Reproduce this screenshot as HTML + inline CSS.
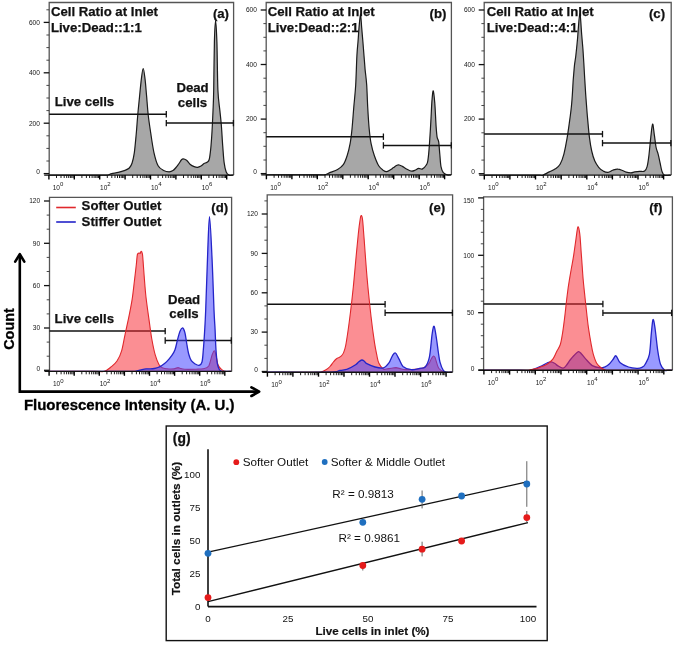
<!DOCTYPE html>
<html><head><meta charset="utf-8"><style>
html,body{margin:0;padding:0;background:#fff;}
svg{display:block;will-change:transform;}
text{font-family:"Liberation Sans",sans-serif;fill:#111;}
.b13{font-size:13.2px;font-weight:bold;stroke:#111;stroke-width:0.25px;}
.b145{font-size:14.4px;font-weight:bold;fill:#000;stroke:#000;stroke-width:0.3px;}
.b11{font-size:11.6px;font-weight:bold;stroke:#111;stroke-width:0.2px;}
.r10{font-size:9.8px;}
.r117{font-size:11.7px;}
.tk{font-size:6.5px;fill:#151515;}
.yl{font-size:6.6px;fill:#151515;}
</style></head><body>
<svg width="675" height="647" viewBox="0 0 675 647">
<rect width="675" height="647" fill="#fff"/>
<path d="M49.2,175.1 V2.5 H233.6 V175.1" fill="none" stroke="#555" stroke-width="1.3"/>
<line x1="43.7" y1="173.6" x2="49.2" y2="173.6" stroke="#111" stroke-width="1.3"/>
<text x="39.900000000000006" y="174.2" class="yl" text-anchor="end">0</text>
<line x1="46.400000000000006" y1="161.0" x2="49.2" y2="161.0" stroke="#333" stroke-width="0.9"/>
<line x1="46.400000000000006" y1="148.4" x2="49.2" y2="148.4" stroke="#333" stroke-width="0.9"/>
<line x1="46.400000000000006" y1="135.8" x2="49.2" y2="135.8" stroke="#333" stroke-width="0.9"/>
<line x1="43.7" y1="123.2" x2="49.2" y2="123.2" stroke="#111" stroke-width="1.3"/>
<text x="39.900000000000006" y="125.5" class="yl" text-anchor="end">200</text>
<line x1="46.400000000000006" y1="110.6" x2="49.2" y2="110.6" stroke="#333" stroke-width="0.9"/>
<line x1="46.400000000000006" y1="98.0" x2="49.2" y2="98.0" stroke="#333" stroke-width="0.9"/>
<line x1="46.400000000000006" y1="85.4" x2="49.2" y2="85.4" stroke="#333" stroke-width="0.9"/>
<line x1="43.7" y1="72.8" x2="49.2" y2="72.8" stroke="#111" stroke-width="1.3"/>
<text x="39.900000000000006" y="75.1" class="yl" text-anchor="end">400</text>
<line x1="46.400000000000006" y1="60.2" x2="49.2" y2="60.2" stroke="#333" stroke-width="0.9"/>
<line x1="46.400000000000006" y1="47.6" x2="49.2" y2="47.6" stroke="#333" stroke-width="0.9"/>
<line x1="46.400000000000006" y1="35.0" x2="49.2" y2="35.0" stroke="#333" stroke-width="0.9"/>
<line x1="43.7" y1="22.4" x2="49.2" y2="22.4" stroke="#111" stroke-width="1.3"/>
<text x="39.900000000000006" y="24.7" class="yl" text-anchor="end">600</text>
<line x1="46.400000000000006" y1="9.8" x2="49.2" y2="9.8" stroke="#333" stroke-width="0.9"/>
<path d="M49.5,175.1 C57.9,175.1 90.3,175.1 100.0,175.1 C109.7,175.1 105.8,175.3 107.7,175.1 C109.7,174.8 109.9,174.0 111.7,173.6 C113.5,173.2 116.1,172.9 118.3,172.4 C120.5,171.9 123.2,171.1 125.0,170.4 C126.8,169.7 128.1,169.2 129.3,168.0 C130.5,166.8 131.3,165.5 132.1,163.0 C132.9,160.5 133.6,157.6 134.3,152.8 C135.0,148.0 135.6,140.4 136.2,134.2 C136.8,128.0 137.1,121.9 137.7,115.7 C138.2,109.5 138.9,103.3 139.5,97.1 C140.1,90.9 140.8,83.4 141.4,78.6 C142.0,73.8 142.6,68.5 143.2,68.5 C143.8,68.5 144.4,73.8 145.0,78.6 C145.6,83.4 146.1,90.9 146.7,97.1 C147.2,103.3 147.6,109.5 148.3,115.7 C149.0,121.9 150.0,128.0 150.9,134.2 C151.8,140.4 152.8,147.6 154.0,152.8 C155.2,158.1 156.5,162.8 158.1,165.7 C159.7,168.6 161.8,169.4 163.6,170.4 C165.4,171.4 167.6,171.8 169.2,171.8 C170.8,171.8 171.9,171.3 173.0,170.6 C174.1,169.9 175.0,168.7 176.0,167.5 C177.0,166.3 178.0,164.9 178.9,163.7 C179.8,162.4 180.6,160.8 181.3,160.0 C182.0,159.2 182.2,158.8 183.1,158.8 C184.0,158.8 185.4,159.3 186.6,160.2 C187.8,161.1 188.7,163.1 190.0,164.2 C191.3,165.3 192.9,166.1 194.2,166.6 C195.4,167.1 196.4,167.4 197.5,167.3 C198.6,167.2 199.9,166.6 201.0,166.0 C202.1,165.4 203.0,164.2 204.0,163.6 C205.0,163.0 206.1,163.0 207.0,162.3 C207.9,161.6 208.6,161.6 209.2,159.5 C209.8,157.4 210.1,154.6 210.6,150.0 C211.1,145.4 211.6,138.2 212.0,131.7 C212.4,125.2 212.7,117.9 213.0,110.9 C213.3,104.0 213.5,101.5 213.7,90.0 C213.9,78.5 214.1,53.2 214.4,41.7 C214.7,30.2 215.2,20.8 215.6,20.8 C216.0,20.8 216.5,30.2 216.9,41.7 C217.3,53.2 217.4,78.5 217.9,90.0 C218.4,101.5 219.3,105.1 219.9,110.9 C220.5,116.7 220.8,119.0 221.3,124.8 C221.8,130.6 222.2,139.3 222.7,145.6 C223.2,151.8 223.5,157.9 224.1,162.3 C224.7,166.7 225.4,169.9 226.2,172.0 C227.0,174.1 227.8,174.6 229.0,175.1 C230.2,175.6 232.4,175.1 233.1,175.1 L233.1,175.1 L49.5,175.1 Z" fill="#a7a7a7" fill-opacity="1.0" stroke="none"/>
<path d="M49.5,175.1 C57.9,175.1 90.3,175.1 100.0,175.1 C109.7,175.1 105.8,175.3 107.7,175.1 C109.7,174.8 109.9,174.0 111.7,173.6 C113.5,173.2 116.1,172.9 118.3,172.4 C120.5,171.9 123.2,171.1 125.0,170.4 C126.8,169.7 128.1,169.2 129.3,168.0 C130.5,166.8 131.3,165.5 132.1,163.0 C132.9,160.5 133.6,157.6 134.3,152.8 C135.0,148.0 135.6,140.4 136.2,134.2 C136.8,128.0 137.1,121.9 137.7,115.7 C138.2,109.5 138.9,103.3 139.5,97.1 C140.1,90.9 140.8,83.4 141.4,78.6 C142.0,73.8 142.6,68.5 143.2,68.5 C143.8,68.5 144.4,73.8 145.0,78.6 C145.6,83.4 146.1,90.9 146.7,97.1 C147.2,103.3 147.6,109.5 148.3,115.7 C149.0,121.9 150.0,128.0 150.9,134.2 C151.8,140.4 152.8,147.6 154.0,152.8 C155.2,158.1 156.5,162.8 158.1,165.7 C159.7,168.6 161.8,169.4 163.6,170.4 C165.4,171.4 167.6,171.8 169.2,171.8 C170.8,171.8 171.9,171.3 173.0,170.6 C174.1,169.9 175.0,168.7 176.0,167.5 C177.0,166.3 178.0,164.9 178.9,163.7 C179.8,162.4 180.6,160.8 181.3,160.0 C182.0,159.2 182.2,158.8 183.1,158.8 C184.0,158.8 185.4,159.3 186.6,160.2 C187.8,161.1 188.7,163.1 190.0,164.2 C191.3,165.3 192.9,166.1 194.2,166.6 C195.4,167.1 196.4,167.4 197.5,167.3 C198.6,167.2 199.9,166.6 201.0,166.0 C202.1,165.4 203.0,164.2 204.0,163.6 C205.0,163.0 206.1,163.0 207.0,162.3 C207.9,161.6 208.6,161.6 209.2,159.5 C209.8,157.4 210.1,154.6 210.6,150.0 C211.1,145.4 211.6,138.2 212.0,131.7 C212.4,125.2 212.7,117.9 213.0,110.9 C213.3,104.0 213.5,101.5 213.7,90.0 C213.9,78.5 214.1,53.2 214.4,41.7 C214.7,30.2 215.2,20.8 215.6,20.8 C216.0,20.8 216.5,30.2 216.9,41.7 C217.3,53.2 217.4,78.5 217.9,90.0 C218.4,101.5 219.3,105.1 219.9,110.9 C220.5,116.7 220.8,119.0 221.3,124.8 C221.8,130.6 222.2,139.3 222.7,145.6 C223.2,151.8 223.5,157.9 224.1,162.3 C224.7,166.7 225.4,169.9 226.2,172.0 C227.0,174.1 227.8,174.6 229.0,175.1 C230.2,175.6 232.4,175.1 233.1,175.1" fill="none" stroke="#1a1a1a" stroke-width="1.2" stroke-linejoin="round"/>
<line x1="44.2" y1="175.1" x2="233.6" y2="175.1" stroke="#111" stroke-width="1.4"/>
<line x1="48.9" y1="175.1" x2="48.9" y2="179.5" stroke="#000" stroke-width="1.4"/>
<line x1="56.5" y1="175.1" x2="56.5" y2="178.0" stroke="#111" stroke-width="0.95"/>
<line x1="61.0" y1="175.1" x2="61.0" y2="178.0" stroke="#111" stroke-width="0.95"/>
<line x1="64.2" y1="175.1" x2="64.2" y2="178.0" stroke="#111" stroke-width="0.95"/>
<line x1="66.7" y1="175.1" x2="66.7" y2="178.0" stroke="#111" stroke-width="0.95"/>
<line x1="68.7" y1="175.1" x2="68.7" y2="178.0" stroke="#111" stroke-width="0.95"/>
<line x1="70.4" y1="175.1" x2="70.4" y2="178.0" stroke="#111" stroke-width="0.95"/>
<line x1="71.8" y1="175.1" x2="71.8" y2="178.0" stroke="#111" stroke-width="0.95"/>
<line x1="73.1" y1="175.1" x2="73.1" y2="178.0" stroke="#111" stroke-width="0.95"/>
<line x1="74.3" y1="175.1" x2="74.3" y2="179.5" stroke="#000" stroke-width="1.4"/>
<line x1="81.9" y1="175.1" x2="81.9" y2="178.0" stroke="#111" stroke-width="0.95"/>
<line x1="86.4" y1="175.1" x2="86.4" y2="178.0" stroke="#111" stroke-width="0.95"/>
<line x1="89.6" y1="175.1" x2="89.6" y2="178.0" stroke="#111" stroke-width="0.95"/>
<line x1="92.1" y1="175.1" x2="92.1" y2="178.0" stroke="#111" stroke-width="0.95"/>
<line x1="94.1" y1="175.1" x2="94.1" y2="178.0" stroke="#111" stroke-width="0.95"/>
<line x1="95.8" y1="175.1" x2="95.8" y2="178.0" stroke="#111" stroke-width="0.95"/>
<line x1="97.2" y1="175.1" x2="97.2" y2="178.0" stroke="#111" stroke-width="0.95"/>
<line x1="98.5" y1="175.1" x2="98.5" y2="178.0" stroke="#111" stroke-width="0.95"/>
<line x1="99.7" y1="175.1" x2="99.7" y2="179.5" stroke="#000" stroke-width="1.4"/>
<line x1="107.3" y1="175.1" x2="107.3" y2="178.0" stroke="#111" stroke-width="0.95"/>
<line x1="111.8" y1="175.1" x2="111.8" y2="178.0" stroke="#111" stroke-width="0.95"/>
<line x1="115.0" y1="175.1" x2="115.0" y2="178.0" stroke="#111" stroke-width="0.95"/>
<line x1="117.5" y1="175.1" x2="117.5" y2="178.0" stroke="#111" stroke-width="0.95"/>
<line x1="119.5" y1="175.1" x2="119.5" y2="178.0" stroke="#111" stroke-width="0.95"/>
<line x1="121.2" y1="175.1" x2="121.2" y2="178.0" stroke="#111" stroke-width="0.95"/>
<line x1="122.6" y1="175.1" x2="122.6" y2="178.0" stroke="#111" stroke-width="0.95"/>
<line x1="123.9" y1="175.1" x2="123.9" y2="178.0" stroke="#111" stroke-width="0.95"/>
<line x1="125.1" y1="175.1" x2="125.1" y2="179.5" stroke="#000" stroke-width="1.4"/>
<line x1="132.7" y1="175.1" x2="132.7" y2="178.0" stroke="#111" stroke-width="0.95"/>
<line x1="137.2" y1="175.1" x2="137.2" y2="178.0" stroke="#111" stroke-width="0.95"/>
<line x1="140.4" y1="175.1" x2="140.4" y2="178.0" stroke="#111" stroke-width="0.95"/>
<line x1="142.9" y1="175.1" x2="142.9" y2="178.0" stroke="#111" stroke-width="0.95"/>
<line x1="144.9" y1="175.1" x2="144.9" y2="178.0" stroke="#111" stroke-width="0.95"/>
<line x1="146.6" y1="175.1" x2="146.6" y2="178.0" stroke="#111" stroke-width="0.95"/>
<line x1="148.0" y1="175.1" x2="148.0" y2="178.0" stroke="#111" stroke-width="0.95"/>
<line x1="149.3" y1="175.1" x2="149.3" y2="178.0" stroke="#111" stroke-width="0.95"/>
<line x1="150.5" y1="175.1" x2="150.5" y2="179.5" stroke="#000" stroke-width="1.4"/>
<line x1="158.1" y1="175.1" x2="158.1" y2="178.0" stroke="#111" stroke-width="0.95"/>
<line x1="162.6" y1="175.1" x2="162.6" y2="178.0" stroke="#111" stroke-width="0.95"/>
<line x1="165.8" y1="175.1" x2="165.8" y2="178.0" stroke="#111" stroke-width="0.95"/>
<line x1="168.3" y1="175.1" x2="168.3" y2="178.0" stroke="#111" stroke-width="0.95"/>
<line x1="170.3" y1="175.1" x2="170.3" y2="178.0" stroke="#111" stroke-width="0.95"/>
<line x1="172.0" y1="175.1" x2="172.0" y2="178.0" stroke="#111" stroke-width="0.95"/>
<line x1="173.4" y1="175.1" x2="173.4" y2="178.0" stroke="#111" stroke-width="0.95"/>
<line x1="174.7" y1="175.1" x2="174.7" y2="178.0" stroke="#111" stroke-width="0.95"/>
<line x1="175.9" y1="175.1" x2="175.9" y2="179.5" stroke="#000" stroke-width="1.4"/>
<line x1="183.5" y1="175.1" x2="183.5" y2="178.0" stroke="#111" stroke-width="0.95"/>
<line x1="188.0" y1="175.1" x2="188.0" y2="178.0" stroke="#111" stroke-width="0.95"/>
<line x1="191.2" y1="175.1" x2="191.2" y2="178.0" stroke="#111" stroke-width="0.95"/>
<line x1="193.7" y1="175.1" x2="193.7" y2="178.0" stroke="#111" stroke-width="0.95"/>
<line x1="195.7" y1="175.1" x2="195.7" y2="178.0" stroke="#111" stroke-width="0.95"/>
<line x1="197.4" y1="175.1" x2="197.4" y2="178.0" stroke="#111" stroke-width="0.95"/>
<line x1="198.8" y1="175.1" x2="198.8" y2="178.0" stroke="#111" stroke-width="0.95"/>
<line x1="200.1" y1="175.1" x2="200.1" y2="178.0" stroke="#111" stroke-width="0.95"/>
<line x1="201.3" y1="175.1" x2="201.3" y2="179.5" stroke="#000" stroke-width="1.4"/>
<line x1="208.9" y1="175.1" x2="208.9" y2="178.0" stroke="#111" stroke-width="0.95"/>
<line x1="213.4" y1="175.1" x2="213.4" y2="178.0" stroke="#111" stroke-width="0.95"/>
<line x1="216.6" y1="175.1" x2="216.6" y2="178.0" stroke="#111" stroke-width="0.95"/>
<line x1="219.1" y1="175.1" x2="219.1" y2="178.0" stroke="#111" stroke-width="0.95"/>
<line x1="221.1" y1="175.1" x2="221.1" y2="178.0" stroke="#111" stroke-width="0.95"/>
<line x1="222.8" y1="175.1" x2="222.8" y2="178.0" stroke="#111" stroke-width="0.95"/>
<line x1="224.2" y1="175.1" x2="224.2" y2="178.0" stroke="#111" stroke-width="0.95"/>
<line x1="225.5" y1="175.1" x2="225.5" y2="178.0" stroke="#111" stroke-width="0.95"/>
<line x1="226.7" y1="175.1" x2="226.7" y2="179.5" stroke="#000" stroke-width="1.4"/>
<text x="52.7" y="190.1" class="tk">10<tspan dy="-3.8" font-size="6">0</tspan></text>
<text x="100.1" y="190.1" class="tk">10<tspan dy="-3.8" font-size="6">2</tspan></text>
<text x="150.9" y="190.1" class="tk">10<tspan dy="-3.8" font-size="6">4</tspan></text>
<text x="201.7" y="190.1" class="tk">10<tspan dy="-3.8" font-size="6">6</tspan></text>
<line x1="49.2" y1="114.3" x2="166.3" y2="114.3" stroke="#111" stroke-width="1.5"/>
<line x1="166.3" y1="111.1" x2="166.3" y2="117.5" stroke="#111" stroke-width="1.3"/>
<line x1="166.3" y1="123.1" x2="233.4" y2="123.1" stroke="#111" stroke-width="1.5"/>
<line x1="166.3" y1="119.89999999999999" x2="166.3" y2="126.3" stroke="#111" stroke-width="1.3"/>
<line x1="233.4" y1="119.89999999999999" x2="233.4" y2="126.3" stroke="#111" stroke-width="1.3"/>
<path d="M266.2,174.9 V2.5 H451.4 V174.9" fill="none" stroke="#555" stroke-width="1.3"/>
<line x1="260.7" y1="173.6" x2="266.2" y2="173.6" stroke="#111" stroke-width="1.3"/>
<text x="256.9" y="174.2" class="yl" text-anchor="end">0</text>
<line x1="263.4" y1="160.0" x2="266.2" y2="160.0" stroke="#333" stroke-width="0.9"/>
<line x1="263.4" y1="146.3" x2="266.2" y2="146.3" stroke="#333" stroke-width="0.9"/>
<line x1="263.4" y1="132.7" x2="266.2" y2="132.7" stroke="#333" stroke-width="0.9"/>
<line x1="260.7" y1="119.1" x2="266.2" y2="119.1" stroke="#111" stroke-width="1.3"/>
<text x="256.9" y="121.4" class="yl" text-anchor="end">200</text>
<line x1="263.4" y1="105.4" x2="266.2" y2="105.4" stroke="#333" stroke-width="0.9"/>
<line x1="263.4" y1="91.8" x2="266.2" y2="91.8" stroke="#333" stroke-width="0.9"/>
<line x1="263.4" y1="78.2" x2="266.2" y2="78.2" stroke="#333" stroke-width="0.9"/>
<line x1="260.7" y1="64.5" x2="266.2" y2="64.5" stroke="#111" stroke-width="1.3"/>
<text x="256.9" y="66.8" class="yl" text-anchor="end">400</text>
<line x1="263.4" y1="50.9" x2="266.2" y2="50.9" stroke="#333" stroke-width="0.9"/>
<line x1="263.4" y1="37.3" x2="266.2" y2="37.3" stroke="#333" stroke-width="0.9"/>
<line x1="263.4" y1="23.6" x2="266.2" y2="23.6" stroke="#333" stroke-width="0.9"/>
<line x1="260.7" y1="10.0" x2="266.2" y2="10.0" stroke="#111" stroke-width="1.3"/>
<text x="256.9" y="12.3" class="yl" text-anchor="end">600</text>
<path d="M266.5,174.9 C275.1,174.9 308.4,174.9 318.0,174.9 C327.6,174.9 322.3,175.3 324.4,174.9 C326.4,174.5 328.1,173.3 330.3,172.4 C332.5,171.5 335.4,170.8 337.6,169.4 C339.8,168.1 341.9,166.6 343.5,164.3 C345.1,162.0 346.1,158.9 347.2,155.5 C348.3,152.1 349.3,148.1 350.1,143.7 C350.9,139.3 351.4,135.1 352.0,129.0 C352.6,122.9 353.2,114.3 353.8,107.0 C354.4,99.7 355.2,93.5 355.7,85.0 C356.2,76.5 356.5,62.9 356.9,55.7 C357.3,48.5 357.6,46.4 358.0,41.8 C358.4,37.2 358.6,32.5 359.0,27.9 C359.4,23.2 360.1,13.9 360.5,13.9 C360.9,13.9 361.3,23.2 361.7,27.9 C362.1,32.5 362.5,37.2 362.9,41.8 C363.3,46.4 363.6,51.1 364.0,55.7 C364.4,60.3 364.7,64.7 365.1,69.6 C365.6,74.5 366.3,78.8 366.7,85.0 C367.1,91.2 367.3,99.7 367.7,107.0 C368.1,114.3 368.6,122.9 369.2,129.0 C369.8,135.1 370.2,139.3 371.1,143.7 C372.0,148.1 373.0,151.8 374.3,155.5 C375.6,159.2 377.2,163.4 378.7,165.8 C380.2,168.2 381.8,169.2 383.1,170.2 C384.5,171.2 385.6,171.7 386.8,171.6 C388.0,171.5 389.4,170.5 390.5,169.8 C391.6,169.1 392.4,168.4 393.5,167.6 C394.6,166.8 396.0,165.6 397.0,165.2 C398.0,164.8 398.4,164.8 399.3,165.0 C400.2,165.2 401.1,165.7 402.4,166.4 C403.7,167.1 405.5,168.5 407.0,169.3 C408.5,170.1 410.2,171.1 411.6,171.2 C413.0,171.3 414.3,170.5 415.5,170.0 C416.7,169.5 417.4,168.6 418.6,168.4 C419.8,168.2 421.2,169.5 422.5,168.9 C423.8,168.3 425.4,166.4 426.3,165.0 C427.2,163.6 427.4,163.8 427.9,160.4 C428.4,157.1 428.9,151.9 429.4,144.9 C429.9,137.9 430.6,126.1 431.0,118.6 C431.4,111.1 431.6,104.7 432.0,100.1 C432.4,95.5 432.8,90.3 433.3,90.8 C433.8,91.3 434.3,97.3 434.8,103.2 C435.3,109.1 435.7,120.7 436.1,126.4 C436.5,132.1 436.7,134.6 437.1,137.2 C437.5,139.8 438.2,139.0 438.7,141.8 C439.1,144.6 439.4,150.1 439.8,154.2 C440.2,158.3 440.4,163.5 441.0,166.6 C441.6,169.7 442.3,171.3 443.3,172.7 C444.3,174.1 445.9,174.5 447.2,174.9 C448.5,175.3 450.4,174.9 451.0,174.9 L451.0,174.9 L266.5,174.9 Z" fill="#a7a7a7" fill-opacity="1.0" stroke="none"/>
<path d="M266.5,174.9 C275.1,174.9 308.4,174.9 318.0,174.9 C327.6,174.9 322.3,175.3 324.4,174.9 C326.4,174.5 328.1,173.3 330.3,172.4 C332.5,171.5 335.4,170.8 337.6,169.4 C339.8,168.1 341.9,166.6 343.5,164.3 C345.1,162.0 346.1,158.9 347.2,155.5 C348.3,152.1 349.3,148.1 350.1,143.7 C350.9,139.3 351.4,135.1 352.0,129.0 C352.6,122.9 353.2,114.3 353.8,107.0 C354.4,99.7 355.2,93.5 355.7,85.0 C356.2,76.5 356.5,62.9 356.9,55.7 C357.3,48.5 357.6,46.4 358.0,41.8 C358.4,37.2 358.6,32.5 359.0,27.9 C359.4,23.2 360.1,13.9 360.5,13.9 C360.9,13.9 361.3,23.2 361.7,27.9 C362.1,32.5 362.5,37.2 362.9,41.8 C363.3,46.4 363.6,51.1 364.0,55.7 C364.4,60.3 364.7,64.7 365.1,69.6 C365.6,74.5 366.3,78.8 366.7,85.0 C367.1,91.2 367.3,99.7 367.7,107.0 C368.1,114.3 368.6,122.9 369.2,129.0 C369.8,135.1 370.2,139.3 371.1,143.7 C372.0,148.1 373.0,151.8 374.3,155.5 C375.6,159.2 377.2,163.4 378.7,165.8 C380.2,168.2 381.8,169.2 383.1,170.2 C384.5,171.2 385.6,171.7 386.8,171.6 C388.0,171.5 389.4,170.5 390.5,169.8 C391.6,169.1 392.4,168.4 393.5,167.6 C394.6,166.8 396.0,165.6 397.0,165.2 C398.0,164.8 398.4,164.8 399.3,165.0 C400.2,165.2 401.1,165.7 402.4,166.4 C403.7,167.1 405.5,168.5 407.0,169.3 C408.5,170.1 410.2,171.1 411.6,171.2 C413.0,171.3 414.3,170.5 415.5,170.0 C416.7,169.5 417.4,168.6 418.6,168.4 C419.8,168.2 421.2,169.5 422.5,168.9 C423.8,168.3 425.4,166.4 426.3,165.0 C427.2,163.6 427.4,163.8 427.9,160.4 C428.4,157.1 428.9,151.9 429.4,144.9 C429.9,137.9 430.6,126.1 431.0,118.6 C431.4,111.1 431.6,104.7 432.0,100.1 C432.4,95.5 432.8,90.3 433.3,90.8 C433.8,91.3 434.3,97.3 434.8,103.2 C435.3,109.1 435.7,120.7 436.1,126.4 C436.5,132.1 436.7,134.6 437.1,137.2 C437.5,139.8 438.2,139.0 438.7,141.8 C439.1,144.6 439.4,150.1 439.8,154.2 C440.2,158.3 440.4,163.5 441.0,166.6 C441.6,169.7 442.3,171.3 443.3,172.7 C444.3,174.1 445.9,174.5 447.2,174.9 C448.5,175.3 450.4,174.9 451.0,174.9" fill="none" stroke="#1a1a1a" stroke-width="1.2" stroke-linejoin="round"/>
<line x1="261.2" y1="174.9" x2="451.4" y2="174.9" stroke="#111" stroke-width="1.4"/>
<line x1="266.4" y1="174.9" x2="266.4" y2="179.3" stroke="#000" stroke-width="1.4"/>
<line x1="274.1" y1="174.9" x2="274.1" y2="177.8" stroke="#111" stroke-width="0.95"/>
<line x1="278.5" y1="174.9" x2="278.5" y2="177.8" stroke="#111" stroke-width="0.95"/>
<line x1="281.7" y1="174.9" x2="281.7" y2="177.8" stroke="#111" stroke-width="0.95"/>
<line x1="284.2" y1="174.9" x2="284.2" y2="177.8" stroke="#111" stroke-width="0.95"/>
<line x1="286.2" y1="174.9" x2="286.2" y2="177.8" stroke="#111" stroke-width="0.95"/>
<line x1="287.9" y1="174.9" x2="287.9" y2="177.8" stroke="#111" stroke-width="0.95"/>
<line x1="289.4" y1="174.9" x2="289.4" y2="177.8" stroke="#111" stroke-width="0.95"/>
<line x1="290.7" y1="174.9" x2="290.7" y2="177.8" stroke="#111" stroke-width="0.95"/>
<line x1="291.9" y1="174.9" x2="291.9" y2="179.3" stroke="#000" stroke-width="1.4"/>
<line x1="299.5" y1="174.9" x2="299.5" y2="177.8" stroke="#111" stroke-width="0.95"/>
<line x1="304.0" y1="174.9" x2="304.0" y2="177.8" stroke="#111" stroke-width="0.95"/>
<line x1="307.2" y1="174.9" x2="307.2" y2="177.8" stroke="#111" stroke-width="0.95"/>
<line x1="309.7" y1="174.9" x2="309.7" y2="177.8" stroke="#111" stroke-width="0.95"/>
<line x1="311.7" y1="174.9" x2="311.7" y2="177.8" stroke="#111" stroke-width="0.95"/>
<line x1="313.4" y1="174.9" x2="313.4" y2="177.8" stroke="#111" stroke-width="0.95"/>
<line x1="314.9" y1="174.9" x2="314.9" y2="177.8" stroke="#111" stroke-width="0.95"/>
<line x1="316.2" y1="174.9" x2="316.2" y2="177.8" stroke="#111" stroke-width="0.95"/>
<line x1="317.3" y1="174.9" x2="317.3" y2="179.3" stroke="#000" stroke-width="1.4"/>
<line x1="325.0" y1="174.9" x2="325.0" y2="177.8" stroke="#111" stroke-width="0.95"/>
<line x1="329.5" y1="174.9" x2="329.5" y2="177.8" stroke="#111" stroke-width="0.95"/>
<line x1="332.6" y1="174.9" x2="332.6" y2="177.8" stroke="#111" stroke-width="0.95"/>
<line x1="335.1" y1="174.9" x2="335.1" y2="177.8" stroke="#111" stroke-width="0.95"/>
<line x1="337.1" y1="174.9" x2="337.1" y2="177.8" stroke="#111" stroke-width="0.95"/>
<line x1="338.8" y1="174.9" x2="338.8" y2="177.8" stroke="#111" stroke-width="0.95"/>
<line x1="340.3" y1="174.9" x2="340.3" y2="177.8" stroke="#111" stroke-width="0.95"/>
<line x1="341.6" y1="174.9" x2="341.6" y2="177.8" stroke="#111" stroke-width="0.95"/>
<line x1="342.8" y1="174.9" x2="342.8" y2="179.3" stroke="#000" stroke-width="1.4"/>
<line x1="350.4" y1="174.9" x2="350.4" y2="177.8" stroke="#111" stroke-width="0.95"/>
<line x1="354.9" y1="174.9" x2="354.9" y2="177.8" stroke="#111" stroke-width="0.95"/>
<line x1="358.1" y1="174.9" x2="358.1" y2="177.8" stroke="#111" stroke-width="0.95"/>
<line x1="360.6" y1="174.9" x2="360.6" y2="177.8" stroke="#111" stroke-width="0.95"/>
<line x1="362.6" y1="174.9" x2="362.6" y2="177.8" stroke="#111" stroke-width="0.95"/>
<line x1="364.3" y1="174.9" x2="364.3" y2="177.8" stroke="#111" stroke-width="0.95"/>
<line x1="365.8" y1="174.9" x2="365.8" y2="177.8" stroke="#111" stroke-width="0.95"/>
<line x1="367.1" y1="174.9" x2="367.1" y2="177.8" stroke="#111" stroke-width="0.95"/>
<line x1="368.2" y1="174.9" x2="368.2" y2="179.3" stroke="#000" stroke-width="1.4"/>
<line x1="375.9" y1="174.9" x2="375.9" y2="177.8" stroke="#111" stroke-width="0.95"/>
<line x1="380.4" y1="174.9" x2="380.4" y2="177.8" stroke="#111" stroke-width="0.95"/>
<line x1="383.6" y1="174.9" x2="383.6" y2="177.8" stroke="#111" stroke-width="0.95"/>
<line x1="386.0" y1="174.9" x2="386.0" y2="177.8" stroke="#111" stroke-width="0.95"/>
<line x1="388.1" y1="174.9" x2="388.1" y2="177.8" stroke="#111" stroke-width="0.95"/>
<line x1="389.8" y1="174.9" x2="389.8" y2="177.8" stroke="#111" stroke-width="0.95"/>
<line x1="391.2" y1="174.9" x2="391.2" y2="177.8" stroke="#111" stroke-width="0.95"/>
<line x1="392.5" y1="174.9" x2="392.5" y2="177.8" stroke="#111" stroke-width="0.95"/>
<line x1="393.7" y1="174.9" x2="393.7" y2="179.3" stroke="#000" stroke-width="1.4"/>
<line x1="401.4" y1="174.9" x2="401.4" y2="177.8" stroke="#111" stroke-width="0.95"/>
<line x1="405.8" y1="174.9" x2="405.8" y2="177.8" stroke="#111" stroke-width="0.95"/>
<line x1="409.0" y1="174.9" x2="409.0" y2="177.8" stroke="#111" stroke-width="0.95"/>
<line x1="411.5" y1="174.9" x2="411.5" y2="177.8" stroke="#111" stroke-width="0.95"/>
<line x1="413.5" y1="174.9" x2="413.5" y2="177.8" stroke="#111" stroke-width="0.95"/>
<line x1="415.2" y1="174.9" x2="415.2" y2="177.8" stroke="#111" stroke-width="0.95"/>
<line x1="416.7" y1="174.9" x2="416.7" y2="177.8" stroke="#111" stroke-width="0.95"/>
<line x1="418.0" y1="174.9" x2="418.0" y2="177.8" stroke="#111" stroke-width="0.95"/>
<line x1="419.2" y1="174.9" x2="419.2" y2="179.3" stroke="#000" stroke-width="1.4"/>
<line x1="426.8" y1="174.9" x2="426.8" y2="177.8" stroke="#111" stroke-width="0.95"/>
<line x1="431.3" y1="174.9" x2="431.3" y2="177.8" stroke="#111" stroke-width="0.95"/>
<line x1="434.5" y1="174.9" x2="434.5" y2="177.8" stroke="#111" stroke-width="0.95"/>
<line x1="437.0" y1="174.9" x2="437.0" y2="177.8" stroke="#111" stroke-width="0.95"/>
<line x1="439.0" y1="174.9" x2="439.0" y2="177.8" stroke="#111" stroke-width="0.95"/>
<line x1="440.7" y1="174.9" x2="440.7" y2="177.8" stroke="#111" stroke-width="0.95"/>
<line x1="442.2" y1="174.9" x2="442.2" y2="177.8" stroke="#111" stroke-width="0.95"/>
<line x1="443.5" y1="174.9" x2="443.5" y2="177.8" stroke="#111" stroke-width="0.95"/>
<line x1="444.6" y1="174.9" x2="444.6" y2="179.3" stroke="#000" stroke-width="1.4"/>
<text x="270.2" y="189.9" class="tk">10<tspan dy="-3.8" font-size="6">0</tspan></text>
<text x="317.7" y="189.9" class="tk">10<tspan dy="-3.8" font-size="6">2</tspan></text>
<text x="368.6" y="189.9" class="tk">10<tspan dy="-3.8" font-size="6">4</tspan></text>
<text x="419.6" y="189.9" class="tk">10<tspan dy="-3.8" font-size="6">6</tspan></text>
<line x1="266.2" y1="136.7" x2="383.4" y2="136.7" stroke="#111" stroke-width="1.5"/>
<line x1="383.4" y1="133.5" x2="383.4" y2="139.89999999999998" stroke="#111" stroke-width="1.3"/>
<line x1="383.4" y1="145.4" x2="451.3" y2="145.4" stroke="#111" stroke-width="1.5"/>
<line x1="383.4" y1="142.20000000000002" x2="383.4" y2="148.6" stroke="#111" stroke-width="1.3"/>
<line x1="451.3" y1="142.20000000000002" x2="451.3" y2="148.6" stroke="#111" stroke-width="1.3"/>
<path d="M484.2,175.1 V2.5 H671.2 V175.1" fill="none" stroke="#555" stroke-width="1.3"/>
<line x1="478.7" y1="173.7" x2="484.2" y2="173.7" stroke="#111" stroke-width="1.3"/>
<text x="474.9" y="174.3" class="yl" text-anchor="end">0</text>
<line x1="481.4" y1="160.1" x2="484.2" y2="160.1" stroke="#333" stroke-width="0.9"/>
<line x1="481.4" y1="146.4" x2="484.2" y2="146.4" stroke="#333" stroke-width="0.9"/>
<line x1="481.4" y1="132.8" x2="484.2" y2="132.8" stroke="#333" stroke-width="0.9"/>
<line x1="478.7" y1="119.1" x2="484.2" y2="119.1" stroke="#111" stroke-width="1.3"/>
<text x="474.9" y="121.4" class="yl" text-anchor="end">200</text>
<line x1="481.4" y1="105.5" x2="484.2" y2="105.5" stroke="#333" stroke-width="0.9"/>
<line x1="481.4" y1="91.8" x2="484.2" y2="91.8" stroke="#333" stroke-width="0.9"/>
<line x1="481.4" y1="78.2" x2="484.2" y2="78.2" stroke="#333" stroke-width="0.9"/>
<line x1="478.7" y1="64.6" x2="484.2" y2="64.6" stroke="#111" stroke-width="1.3"/>
<text x="474.9" y="66.9" class="yl" text-anchor="end">400</text>
<line x1="481.4" y1="50.9" x2="484.2" y2="50.9" stroke="#333" stroke-width="0.9"/>
<line x1="481.4" y1="37.3" x2="484.2" y2="37.3" stroke="#333" stroke-width="0.9"/>
<line x1="481.4" y1="23.6" x2="484.2" y2="23.6" stroke="#333" stroke-width="0.9"/>
<line x1="478.7" y1="10.0" x2="484.2" y2="10.0" stroke="#111" stroke-width="1.3"/>
<text x="474.9" y="12.3" class="yl" text-anchor="end">600</text>
<path d="M484.5,175.1 C492.9,175.1 525.8,175.1 535.0,175.1 C544.2,175.1 538.6,175.1 540.0,175.1 C541.4,175.1 541.6,175.6 543.1,175.1 C544.6,174.6 547.2,172.9 549.3,171.9 C551.3,170.9 553.6,170.1 555.4,168.8 C557.2,167.5 558.7,166.6 560.1,164.2 C561.5,161.8 562.8,158.3 563.9,154.1 C565.0,149.8 566.1,143.8 567.0,138.7 C567.9,133.5 568.5,129.1 569.3,123.2 C570.1,117.3 571.1,110.4 571.7,103.2 C572.4,96.0 572.8,86.2 573.2,80.0 C573.7,73.8 574.0,70.2 574.4,66.0 C574.8,61.8 575.4,59.7 575.9,55.0 C576.4,50.3 577.0,44.9 577.6,38.0 C578.2,31.1 579.1,14.4 579.8,13.9 C580.5,13.4 581.2,29.0 581.7,34.8 C582.2,40.6 582.5,44.1 582.9,48.7 C583.2,53.4 583.5,57.5 583.8,62.7 C584.1,67.9 584.4,74.0 584.8,80.0 C585.2,86.0 585.5,92.1 586.0,98.5 C586.5,104.9 587.0,112.2 587.6,118.6 C588.2,125.0 588.7,131.7 589.4,137.1 C590.1,142.5 590.8,147.0 591.7,151.0 C592.6,155.0 593.6,158.4 594.8,161.1 C596.0,163.8 597.3,165.6 598.7,167.3 C600.1,169.0 601.8,170.2 603.3,171.1 C604.8,171.9 606.5,172.5 608.0,172.4 C609.5,172.3 611.4,170.8 612.6,170.3 C613.8,169.8 614.1,169.8 615.0,169.6 C615.9,169.4 616.8,169.0 618.0,169.2 C619.2,169.3 621.0,170.0 622.4,170.5 C623.8,171.0 624.7,171.8 626.1,172.2 C627.5,172.6 629.6,172.9 631.0,172.9 C632.4,172.9 633.2,172.2 634.7,171.9 C636.2,171.7 638.1,171.5 639.7,171.4 C641.4,171.3 643.4,171.9 644.6,171.1 C645.8,170.3 646.4,169.3 647.1,166.7 C647.8,164.1 648.3,160.5 648.9,155.6 C649.5,150.7 650.2,142.3 650.8,137.1 C651.4,131.8 652.0,124.5 652.6,124.1 C653.2,123.7 653.7,130.8 654.3,134.6 C654.9,138.4 655.4,143.7 656.0,147.0 C656.6,150.3 657.5,151.7 658.2,154.4 C658.9,157.1 659.5,160.2 660.1,163.0 C660.7,165.8 661.2,169.1 661.9,171.1 C662.6,173.1 662.9,174.4 664.4,175.1 C665.9,175.8 669.6,175.1 670.6,175.1 L670.6,175.1 L484.5,175.1 Z" fill="#a7a7a7" fill-opacity="1.0" stroke="none"/>
<path d="M484.5,175.1 C492.9,175.1 525.8,175.1 535.0,175.1 C544.2,175.1 538.6,175.1 540.0,175.1 C541.4,175.1 541.6,175.6 543.1,175.1 C544.6,174.6 547.2,172.9 549.3,171.9 C551.3,170.9 553.6,170.1 555.4,168.8 C557.2,167.5 558.7,166.6 560.1,164.2 C561.5,161.8 562.8,158.3 563.9,154.1 C565.0,149.8 566.1,143.8 567.0,138.7 C567.9,133.5 568.5,129.1 569.3,123.2 C570.1,117.3 571.1,110.4 571.7,103.2 C572.4,96.0 572.8,86.2 573.2,80.0 C573.7,73.8 574.0,70.2 574.4,66.0 C574.8,61.8 575.4,59.7 575.9,55.0 C576.4,50.3 577.0,44.9 577.6,38.0 C578.2,31.1 579.1,14.4 579.8,13.9 C580.5,13.4 581.2,29.0 581.7,34.8 C582.2,40.6 582.5,44.1 582.9,48.7 C583.2,53.4 583.5,57.5 583.8,62.7 C584.1,67.9 584.4,74.0 584.8,80.0 C585.2,86.0 585.5,92.1 586.0,98.5 C586.5,104.9 587.0,112.2 587.6,118.6 C588.2,125.0 588.7,131.7 589.4,137.1 C590.1,142.5 590.8,147.0 591.7,151.0 C592.6,155.0 593.6,158.4 594.8,161.1 C596.0,163.8 597.3,165.6 598.7,167.3 C600.1,169.0 601.8,170.2 603.3,171.1 C604.8,171.9 606.5,172.5 608.0,172.4 C609.5,172.3 611.4,170.8 612.6,170.3 C613.8,169.8 614.1,169.8 615.0,169.6 C615.9,169.4 616.8,169.0 618.0,169.2 C619.2,169.3 621.0,170.0 622.4,170.5 C623.8,171.0 624.7,171.8 626.1,172.2 C627.5,172.6 629.6,172.9 631.0,172.9 C632.4,172.9 633.2,172.2 634.7,171.9 C636.2,171.7 638.1,171.5 639.7,171.4 C641.4,171.3 643.4,171.9 644.6,171.1 C645.8,170.3 646.4,169.3 647.1,166.7 C647.8,164.1 648.3,160.5 648.9,155.6 C649.5,150.7 650.2,142.3 650.8,137.1 C651.4,131.8 652.0,124.5 652.6,124.1 C653.2,123.7 653.7,130.8 654.3,134.6 C654.9,138.4 655.4,143.7 656.0,147.0 C656.6,150.3 657.5,151.7 658.2,154.4 C658.9,157.1 659.5,160.2 660.1,163.0 C660.7,165.8 661.2,169.1 661.9,171.1 C662.6,173.1 662.9,174.4 664.4,175.1 C665.9,175.8 669.6,175.1 670.6,175.1" fill="none" stroke="#1a1a1a" stroke-width="1.2" stroke-linejoin="round"/>
<line x1="479.2" y1="175.1" x2="671.2" y2="175.1" stroke="#111" stroke-width="1.4"/>
<line x1="484.3" y1="175.1" x2="484.3" y2="179.5" stroke="#000" stroke-width="1.4"/>
<line x1="492.0" y1="175.1" x2="492.0" y2="178.0" stroke="#111" stroke-width="0.95"/>
<line x1="496.5" y1="175.1" x2="496.5" y2="178.0" stroke="#111" stroke-width="0.95"/>
<line x1="499.7" y1="175.1" x2="499.7" y2="178.0" stroke="#111" stroke-width="0.95"/>
<line x1="502.2" y1="175.1" x2="502.2" y2="178.0" stroke="#111" stroke-width="0.95"/>
<line x1="504.2" y1="175.1" x2="504.2" y2="178.0" stroke="#111" stroke-width="0.95"/>
<line x1="506.0" y1="175.1" x2="506.0" y2="178.0" stroke="#111" stroke-width="0.95"/>
<line x1="507.4" y1="175.1" x2="507.4" y2="178.0" stroke="#111" stroke-width="0.95"/>
<line x1="508.7" y1="175.1" x2="508.7" y2="178.0" stroke="#111" stroke-width="0.95"/>
<line x1="509.9" y1="175.1" x2="509.9" y2="179.5" stroke="#000" stroke-width="1.4"/>
<line x1="517.6" y1="175.1" x2="517.6" y2="178.0" stroke="#111" stroke-width="0.95"/>
<line x1="522.1" y1="175.1" x2="522.1" y2="178.0" stroke="#111" stroke-width="0.95"/>
<line x1="525.3" y1="175.1" x2="525.3" y2="178.0" stroke="#111" stroke-width="0.95"/>
<line x1="527.8" y1="175.1" x2="527.8" y2="178.0" stroke="#111" stroke-width="0.95"/>
<line x1="529.9" y1="175.1" x2="529.9" y2="178.0" stroke="#111" stroke-width="0.95"/>
<line x1="531.6" y1="175.1" x2="531.6" y2="178.0" stroke="#111" stroke-width="0.95"/>
<line x1="533.1" y1="175.1" x2="533.1" y2="178.0" stroke="#111" stroke-width="0.95"/>
<line x1="534.4" y1="175.1" x2="534.4" y2="178.0" stroke="#111" stroke-width="0.95"/>
<line x1="535.5" y1="175.1" x2="535.5" y2="179.5" stroke="#000" stroke-width="1.4"/>
<line x1="543.3" y1="175.1" x2="543.3" y2="178.0" stroke="#111" stroke-width="0.95"/>
<line x1="547.8" y1="175.1" x2="547.8" y2="178.0" stroke="#111" stroke-width="0.95"/>
<line x1="551.0" y1="175.1" x2="551.0" y2="178.0" stroke="#111" stroke-width="0.95"/>
<line x1="553.4" y1="175.1" x2="553.4" y2="178.0" stroke="#111" stroke-width="0.95"/>
<line x1="555.5" y1="175.1" x2="555.5" y2="178.0" stroke="#111" stroke-width="0.95"/>
<line x1="557.2" y1="175.1" x2="557.2" y2="178.0" stroke="#111" stroke-width="0.95"/>
<line x1="558.7" y1="175.1" x2="558.7" y2="178.0" stroke="#111" stroke-width="0.95"/>
<line x1="560.0" y1="175.1" x2="560.0" y2="178.0" stroke="#111" stroke-width="0.95"/>
<line x1="561.2" y1="175.1" x2="561.2" y2="179.5" stroke="#000" stroke-width="1.4"/>
<line x1="568.9" y1="175.1" x2="568.9" y2="178.0" stroke="#111" stroke-width="0.95"/>
<line x1="573.4" y1="175.1" x2="573.4" y2="178.0" stroke="#111" stroke-width="0.95"/>
<line x1="576.6" y1="175.1" x2="576.6" y2="178.0" stroke="#111" stroke-width="0.95"/>
<line x1="579.1" y1="175.1" x2="579.1" y2="178.0" stroke="#111" stroke-width="0.95"/>
<line x1="581.1" y1="175.1" x2="581.1" y2="178.0" stroke="#111" stroke-width="0.95"/>
<line x1="582.8" y1="175.1" x2="582.8" y2="178.0" stroke="#111" stroke-width="0.95"/>
<line x1="584.3" y1="175.1" x2="584.3" y2="178.0" stroke="#111" stroke-width="0.95"/>
<line x1="585.6" y1="175.1" x2="585.6" y2="178.0" stroke="#111" stroke-width="0.95"/>
<line x1="586.8" y1="175.1" x2="586.8" y2="179.5" stroke="#000" stroke-width="1.4"/>
<line x1="594.5" y1="175.1" x2="594.5" y2="178.0" stroke="#111" stroke-width="0.95"/>
<line x1="599.0" y1="175.1" x2="599.0" y2="178.0" stroke="#111" stroke-width="0.95"/>
<line x1="602.2" y1="175.1" x2="602.2" y2="178.0" stroke="#111" stroke-width="0.95"/>
<line x1="604.7" y1="175.1" x2="604.7" y2="178.0" stroke="#111" stroke-width="0.95"/>
<line x1="606.7" y1="175.1" x2="606.7" y2="178.0" stroke="#111" stroke-width="0.95"/>
<line x1="608.4" y1="175.1" x2="608.4" y2="178.0" stroke="#111" stroke-width="0.95"/>
<line x1="609.9" y1="175.1" x2="609.9" y2="178.0" stroke="#111" stroke-width="0.95"/>
<line x1="611.2" y1="175.1" x2="611.2" y2="178.0" stroke="#111" stroke-width="0.95"/>
<line x1="612.4" y1="175.1" x2="612.4" y2="179.5" stroke="#000" stroke-width="1.4"/>
<line x1="620.1" y1="175.1" x2="620.1" y2="178.0" stroke="#111" stroke-width="0.95"/>
<line x1="624.6" y1="175.1" x2="624.6" y2="178.0" stroke="#111" stroke-width="0.95"/>
<line x1="627.8" y1="175.1" x2="627.8" y2="178.0" stroke="#111" stroke-width="0.95"/>
<line x1="630.3" y1="175.1" x2="630.3" y2="178.0" stroke="#111" stroke-width="0.95"/>
<line x1="632.3" y1="175.1" x2="632.3" y2="178.0" stroke="#111" stroke-width="0.95"/>
<line x1="634.1" y1="175.1" x2="634.1" y2="178.0" stroke="#111" stroke-width="0.95"/>
<line x1="635.5" y1="175.1" x2="635.5" y2="178.0" stroke="#111" stroke-width="0.95"/>
<line x1="636.8" y1="175.1" x2="636.8" y2="178.0" stroke="#111" stroke-width="0.95"/>
<line x1="638.0" y1="175.1" x2="638.0" y2="179.5" stroke="#000" stroke-width="1.4"/>
<line x1="645.7" y1="175.1" x2="645.7" y2="178.0" stroke="#111" stroke-width="0.95"/>
<line x1="650.2" y1="175.1" x2="650.2" y2="178.0" stroke="#111" stroke-width="0.95"/>
<line x1="653.4" y1="175.1" x2="653.4" y2="178.0" stroke="#111" stroke-width="0.95"/>
<line x1="655.9" y1="175.1" x2="655.9" y2="178.0" stroke="#111" stroke-width="0.95"/>
<line x1="658.0" y1="175.1" x2="658.0" y2="178.0" stroke="#111" stroke-width="0.95"/>
<line x1="659.7" y1="175.1" x2="659.7" y2="178.0" stroke="#111" stroke-width="0.95"/>
<line x1="661.2" y1="175.1" x2="661.2" y2="178.0" stroke="#111" stroke-width="0.95"/>
<line x1="662.5" y1="175.1" x2="662.5" y2="178.0" stroke="#111" stroke-width="0.95"/>
<line x1="663.6" y1="175.1" x2="663.6" y2="179.5" stroke="#000" stroke-width="1.4"/>
<text x="488.1" y="190.1" class="tk">10<tspan dy="-3.8" font-size="6">0</tspan></text>
<text x="535.9" y="190.1" class="tk">10<tspan dy="-3.8" font-size="6">2</tspan></text>
<text x="587.2" y="190.1" class="tk">10<tspan dy="-3.8" font-size="6">4</tspan></text>
<text x="638.4" y="190.1" class="tk">10<tspan dy="-3.8" font-size="6">6</tspan></text>
<line x1="484.2" y1="134.1" x2="602.5" y2="134.1" stroke="#111" stroke-width="1.5"/>
<line x1="602.5" y1="130.9" x2="602.5" y2="137.29999999999998" stroke="#111" stroke-width="1.3"/>
<line x1="602.5" y1="143.1" x2="670.9" y2="143.1" stroke="#111" stroke-width="1.5"/>
<line x1="602.5" y1="139.9" x2="602.5" y2="146.29999999999998" stroke="#111" stroke-width="1.3"/>
<line x1="670.9" y1="139.9" x2="670.9" y2="146.29999999999998" stroke="#111" stroke-width="1.3"/>
<text x="50.900000000000006" y="15.8" class="b13" text-anchor="start" >Cell Ratio at Inlet</text>
<text x="50.900000000000006" y="32.1" class="b13" text-anchor="start" >Live:Dead::1:1</text>
<text x="229.0" y="18.2" class="b13" text-anchor="end" >(a)</text>
<text x="267.7" y="15.8" class="b13" text-anchor="start" >Cell Ratio at Inlet</text>
<text x="267.7" y="32.1" class="b13" text-anchor="start" >Live:Dead::2:1</text>
<text x="446.4" y="18.2" class="b13" text-anchor="end" >(b)</text>
<text x="486.7" y="15.8" class="b13" text-anchor="start" >Cell Ratio at Inlet</text>
<text x="486.7" y="32.1" class="b13" text-anchor="start" >Live:Dead::4:1</text>
<text x="665.1" y="18.2" class="b13" text-anchor="end" >(c)</text>
<text x="54.8" y="106.4" class="b13" text-anchor="start" >Live cells</text>
<text x="192.5" y="91.5" class="b13" text-anchor="middle" >Dead</text>
<text x="192.5" y="107" class="b13" text-anchor="middle" >cells</text>
<path d="M49.5,371.4 V197.3 H231.6 V371.4" fill="none" stroke="#555" stroke-width="1.3"/>
<line x1="44.0" y1="370.3" x2="49.5" y2="370.3" stroke="#111" stroke-width="1.3"/>
<text x="40.2" y="370.9" class="yl" text-anchor="end">0</text>
<line x1="46.7" y1="356.2" x2="49.5" y2="356.2" stroke="#333" stroke-width="0.9"/>
<line x1="46.7" y1="342.1" x2="49.5" y2="342.1" stroke="#333" stroke-width="0.9"/>
<line x1="44.0" y1="328.0" x2="49.5" y2="328.0" stroke="#111" stroke-width="1.3"/>
<text x="40.2" y="330.3" class="yl" text-anchor="end">30</text>
<line x1="46.7" y1="313.9" x2="49.5" y2="313.9" stroke="#333" stroke-width="0.9"/>
<line x1="46.7" y1="299.8" x2="49.5" y2="299.8" stroke="#333" stroke-width="0.9"/>
<line x1="44.0" y1="285.6" x2="49.5" y2="285.6" stroke="#111" stroke-width="1.3"/>
<text x="40.2" y="287.9" class="yl" text-anchor="end">60</text>
<line x1="46.7" y1="271.5" x2="49.5" y2="271.5" stroke="#333" stroke-width="0.9"/>
<line x1="46.7" y1="257.4" x2="49.5" y2="257.4" stroke="#333" stroke-width="0.9"/>
<line x1="44.0" y1="243.3" x2="49.5" y2="243.3" stroke="#111" stroke-width="1.3"/>
<text x="40.2" y="245.6" class="yl" text-anchor="end">90</text>
<line x1="46.7" y1="229.2" x2="49.5" y2="229.2" stroke="#333" stroke-width="0.9"/>
<line x1="46.7" y1="215.1" x2="49.5" y2="215.1" stroke="#333" stroke-width="0.9"/>
<line x1="44.0" y1="201.0" x2="49.5" y2="201.0" stroke="#111" stroke-width="1.3"/>
<text x="40.2" y="203.3" class="yl" text-anchor="end">120</text>
<line x1="49.5" y1="331.1" x2="165.2" y2="331.1" stroke="#111" stroke-width="1.5"/>
<line x1="165.2" y1="327.90000000000003" x2="165.2" y2="334.3" stroke="#111" stroke-width="1.3"/>
<line x1="165.2" y1="340.5" x2="231.3" y2="340.5" stroke="#111" stroke-width="1.5"/>
<line x1="165.2" y1="337.3" x2="165.2" y2="343.7" stroke="#111" stroke-width="1.3"/>
<line x1="231.3" y1="337.3" x2="231.3" y2="343.7" stroke="#111" stroke-width="1.3"/>
<path d="M49.8,371.3 C57.3,371.3 85.9,371.3 95.0,371.3 C104.1,371.3 101.6,372.1 104.3,371.3 C107.0,370.6 109.1,368.5 111.2,366.8 C113.3,365.1 115.2,363.7 117.0,361.0 C118.8,358.3 120.4,355.1 121.7,350.6 C123.0,346.2 123.9,339.7 125.1,334.3 C126.2,328.9 127.4,323.9 128.6,318.1 C129.8,312.3 131.1,305.8 132.1,299.6 C133.1,293.4 133.7,286.8 134.4,281.0 C135.1,275.2 135.8,269.2 136.3,264.8 C136.8,260.4 136.9,256.4 137.4,254.5 C137.9,252.6 138.8,253.3 139.3,253.1 C139.8,252.9 139.9,253.6 140.2,253.3 C140.5,253.0 140.8,251.3 141.2,251.4 C141.6,251.5 142.1,252.4 142.4,253.8 C142.7,255.2 142.7,256.3 143.0,260.1 C143.3,263.9 143.7,270.2 144.2,276.4 C144.7,282.6 145.2,290.2 146.0,297.2 C146.8,304.1 147.8,311.1 148.8,318.1 C149.8,325.1 150.7,332.8 151.8,339.0 C152.9,345.2 154.1,351.0 155.3,355.2 C156.5,359.4 157.7,362.1 158.8,364.2 C160.0,366.3 160.8,367.0 162.2,367.8 C163.5,368.6 165.0,368.6 166.9,368.8 C168.8,369.0 172.0,369.1 173.8,368.9 C175.7,368.7 176.8,367.7 178.0,367.6 C179.2,367.6 179.9,368.3 181.0,368.6 C182.1,368.9 182.2,369.2 184.7,369.3 C187.2,369.4 192.9,369.3 196.0,369.2 C199.1,369.1 201.2,369.2 203.3,368.7 C205.4,368.2 207.2,368.2 208.7,366.0 C210.1,363.8 211.1,357.9 212.0,355.3 C212.9,352.8 213.6,350.7 214.3,350.7 C215.0,350.7 215.4,353.0 216.0,355.3 C216.6,357.6 217.2,362.5 218.0,364.7 C218.8,366.9 219.6,367.6 220.7,368.7 C221.8,369.8 223.0,370.9 224.7,371.3 C226.4,371.7 229.9,371.3 231.0,371.3 L231.0,371.3 L49.8,371.3 Z" fill="#f82630" fill-opacity="0.52" stroke="none"/>
<path d="M49.8,371.3 C57.3,371.3 85.9,371.3 95.0,371.3 C104.1,371.3 101.6,372.1 104.3,371.3 C107.0,370.6 109.1,368.5 111.2,366.8 C113.3,365.1 115.2,363.7 117.0,361.0 C118.8,358.3 120.4,355.1 121.7,350.6 C123.0,346.2 123.9,339.7 125.1,334.3 C126.2,328.9 127.4,323.9 128.6,318.1 C129.8,312.3 131.1,305.8 132.1,299.6 C133.1,293.4 133.7,286.8 134.4,281.0 C135.1,275.2 135.8,269.2 136.3,264.8 C136.8,260.4 136.9,256.4 137.4,254.5 C137.9,252.6 138.8,253.3 139.3,253.1 C139.8,252.9 139.9,253.6 140.2,253.3 C140.5,253.0 140.8,251.3 141.2,251.4 C141.6,251.5 142.1,252.4 142.4,253.8 C142.7,255.2 142.7,256.3 143.0,260.1 C143.3,263.9 143.7,270.2 144.2,276.4 C144.7,282.6 145.2,290.2 146.0,297.2 C146.8,304.1 147.8,311.1 148.8,318.1 C149.8,325.1 150.7,332.8 151.8,339.0 C152.9,345.2 154.1,351.0 155.3,355.2 C156.5,359.4 157.7,362.1 158.8,364.2 C160.0,366.3 160.8,367.0 162.2,367.8 C163.5,368.6 165.0,368.6 166.9,368.8 C168.8,369.0 172.0,369.1 173.8,368.9 C175.7,368.7 176.8,367.7 178.0,367.6 C179.2,367.6 179.9,368.3 181.0,368.6 C182.1,368.9 182.2,369.2 184.7,369.3 C187.2,369.4 192.9,369.3 196.0,369.2 C199.1,369.1 201.2,369.2 203.3,368.7 C205.4,368.2 207.2,368.2 208.7,366.0 C210.1,363.8 211.1,357.9 212.0,355.3 C212.9,352.8 213.6,350.7 214.3,350.7 C215.0,350.7 215.4,353.0 216.0,355.3 C216.6,357.6 217.2,362.5 218.0,364.7 C218.8,366.9 219.6,367.6 220.7,368.7 C221.8,369.8 223.0,370.9 224.7,371.3 C226.4,371.7 229.9,371.3 231.0,371.3" fill="none" stroke="#e0282c" stroke-width="1.1" stroke-linejoin="round"/>
<path d="M49.8,371.3 C61.5,371.3 107.4,371.3 120.0,371.3 C132.6,371.3 122.7,371.3 125.2,371.3 C127.7,371.3 132.2,371.6 135.0,371.3 C137.8,371.0 140.2,370.0 142.0,369.6 C143.8,369.2 144.7,369.0 146.0,368.9 C147.3,368.8 148.6,369.0 150.0,368.9 C151.4,368.8 152.9,368.7 154.2,368.5 C155.5,368.3 156.8,367.9 158.0,367.5 C159.2,367.1 160.1,366.8 161.5,365.8 C162.9,364.8 165.0,363.3 166.7,361.6 C168.4,359.9 170.5,357.4 171.9,355.4 C173.3,353.4 174.1,352.1 175.0,349.7 C175.9,347.2 176.5,343.8 177.3,340.7 C178.1,337.6 179.1,333.4 180.0,331.3 C180.9,329.2 181.9,327.8 182.7,328.0 C183.5,328.2 184.2,330.1 184.9,332.7 C185.6,335.2 186.1,339.8 186.7,343.3 C187.3,346.9 187.9,351.1 188.7,354.0 C189.5,356.9 190.2,359.0 191.3,360.7 C192.4,362.4 194.0,363.2 195.3,364.0 C196.6,364.8 198.0,365.6 199.1,365.3 C200.2,365.0 201.3,364.6 202.0,362.0 C202.7,359.4 202.9,355.3 203.3,350.0 C203.8,344.7 204.3,336.7 204.7,330.0 C205.1,323.3 205.2,322.4 205.7,310.0 C206.2,297.6 207.0,271.2 207.6,255.7 C208.2,240.1 208.8,216.7 209.5,216.7 C210.2,216.7 211.2,240.1 211.9,255.7 C212.7,271.2 213.5,297.6 214.0,310.0 C214.5,322.4 214.8,323.3 215.1,330.0 C215.4,336.7 215.6,344.4 216.0,350.0 C216.4,355.6 216.8,360.1 217.3,363.3 C217.9,366.6 218.5,368.2 219.3,369.5 C220.1,370.8 220.1,371.0 222.0,371.3 C223.9,371.6 229.5,371.3 231.0,371.3 L231.0,371.3 L49.8,371.3 Z" fill="#4646ff" fill-opacity="0.55" stroke="none"/>
<path d="M49.8,371.3 C61.5,371.3 107.4,371.3 120.0,371.3 C132.6,371.3 122.7,371.3 125.2,371.3 C127.7,371.3 132.2,371.6 135.0,371.3 C137.8,371.0 140.2,370.0 142.0,369.6 C143.8,369.2 144.7,369.0 146.0,368.9 C147.3,368.8 148.6,369.0 150.0,368.9 C151.4,368.8 152.9,368.7 154.2,368.5 C155.5,368.3 156.8,367.9 158.0,367.5 C159.2,367.1 160.1,366.8 161.5,365.8 C162.9,364.8 165.0,363.3 166.7,361.6 C168.4,359.9 170.5,357.4 171.9,355.4 C173.3,353.4 174.1,352.1 175.0,349.7 C175.9,347.2 176.5,343.8 177.3,340.7 C178.1,337.6 179.1,333.4 180.0,331.3 C180.9,329.2 181.9,327.8 182.7,328.0 C183.5,328.2 184.2,330.1 184.9,332.7 C185.6,335.2 186.1,339.8 186.7,343.3 C187.3,346.9 187.9,351.1 188.7,354.0 C189.5,356.9 190.2,359.0 191.3,360.7 C192.4,362.4 194.0,363.2 195.3,364.0 C196.6,364.8 198.0,365.6 199.1,365.3 C200.2,365.0 201.3,364.6 202.0,362.0 C202.7,359.4 202.9,355.3 203.3,350.0 C203.8,344.7 204.3,336.7 204.7,330.0 C205.1,323.3 205.2,322.4 205.7,310.0 C206.2,297.6 207.0,271.2 207.6,255.7 C208.2,240.1 208.8,216.7 209.5,216.7 C210.2,216.7 211.2,240.1 211.9,255.7 C212.7,271.2 213.5,297.6 214.0,310.0 C214.5,322.4 214.8,323.3 215.1,330.0 C215.4,336.7 215.6,344.4 216.0,350.0 C216.4,355.6 216.8,360.1 217.3,363.3 C217.9,366.6 218.5,368.2 219.3,369.5 C220.1,370.8 220.1,371.0 222.0,371.3 C223.9,371.6 229.5,371.3 231.0,371.3" fill="none" stroke="#2424c8" stroke-width="1.3" stroke-linejoin="round"/>
<line x1="44.5" y1="371.4" x2="231.6" y2="371.4" stroke="#111" stroke-width="1.4"/>
<line x1="49.1" y1="371.4" x2="49.1" y2="375.79999999999995" stroke="#000" stroke-width="1.4"/>
<line x1="56.7" y1="371.4" x2="56.7" y2="374.29999999999995" stroke="#111" stroke-width="0.95"/>
<line x1="61.1" y1="371.4" x2="61.1" y2="374.29999999999995" stroke="#111" stroke-width="0.95"/>
<line x1="64.2" y1="371.4" x2="64.2" y2="374.29999999999995" stroke="#111" stroke-width="0.95"/>
<line x1="66.6" y1="371.4" x2="66.6" y2="374.29999999999995" stroke="#111" stroke-width="0.95"/>
<line x1="68.6" y1="371.4" x2="68.6" y2="374.29999999999995" stroke="#111" stroke-width="0.95"/>
<line x1="70.3" y1="371.4" x2="70.3" y2="374.29999999999995" stroke="#111" stroke-width="0.95"/>
<line x1="71.8" y1="371.4" x2="71.8" y2="374.29999999999995" stroke="#111" stroke-width="0.95"/>
<line x1="73.1" y1="371.4" x2="73.1" y2="374.29999999999995" stroke="#111" stroke-width="0.95"/>
<line x1="74.2" y1="371.4" x2="74.2" y2="375.79999999999995" stroke="#000" stroke-width="1.4"/>
<line x1="81.8" y1="371.4" x2="81.8" y2="374.29999999999995" stroke="#111" stroke-width="0.95"/>
<line x1="86.2" y1="371.4" x2="86.2" y2="374.29999999999995" stroke="#111" stroke-width="0.95"/>
<line x1="89.3" y1="371.4" x2="89.3" y2="374.29999999999995" stroke="#111" stroke-width="0.95"/>
<line x1="91.7" y1="371.4" x2="91.7" y2="374.29999999999995" stroke="#111" stroke-width="0.95"/>
<line x1="93.7" y1="371.4" x2="93.7" y2="374.29999999999995" stroke="#111" stroke-width="0.95"/>
<line x1="95.4" y1="371.4" x2="95.4" y2="374.29999999999995" stroke="#111" stroke-width="0.95"/>
<line x1="96.9" y1="371.4" x2="96.9" y2="374.29999999999995" stroke="#111" stroke-width="0.95"/>
<line x1="98.2" y1="371.4" x2="98.2" y2="374.29999999999995" stroke="#111" stroke-width="0.95"/>
<line x1="99.3" y1="371.4" x2="99.3" y2="375.79999999999995" stroke="#000" stroke-width="1.4"/>
<line x1="106.9" y1="371.4" x2="106.9" y2="374.29999999999995" stroke="#111" stroke-width="0.95"/>
<line x1="111.3" y1="371.4" x2="111.3" y2="374.29999999999995" stroke="#111" stroke-width="0.95"/>
<line x1="114.4" y1="371.4" x2="114.4" y2="374.29999999999995" stroke="#111" stroke-width="0.95"/>
<line x1="116.8" y1="371.4" x2="116.8" y2="374.29999999999995" stroke="#111" stroke-width="0.95"/>
<line x1="118.8" y1="371.4" x2="118.8" y2="374.29999999999995" stroke="#111" stroke-width="0.95"/>
<line x1="120.5" y1="371.4" x2="120.5" y2="374.29999999999995" stroke="#111" stroke-width="0.95"/>
<line x1="122.0" y1="371.4" x2="122.0" y2="374.29999999999995" stroke="#111" stroke-width="0.95"/>
<line x1="123.3" y1="371.4" x2="123.3" y2="374.29999999999995" stroke="#111" stroke-width="0.95"/>
<line x1="124.4" y1="371.4" x2="124.4" y2="375.79999999999995" stroke="#000" stroke-width="1.4"/>
<line x1="132.0" y1="371.4" x2="132.0" y2="374.29999999999995" stroke="#111" stroke-width="0.95"/>
<line x1="136.4" y1="371.4" x2="136.4" y2="374.29999999999995" stroke="#111" stroke-width="0.95"/>
<line x1="139.5" y1="371.4" x2="139.5" y2="374.29999999999995" stroke="#111" stroke-width="0.95"/>
<line x1="141.9" y1="371.4" x2="141.9" y2="374.29999999999995" stroke="#111" stroke-width="0.95"/>
<line x1="143.9" y1="371.4" x2="143.9" y2="374.29999999999995" stroke="#111" stroke-width="0.95"/>
<line x1="145.6" y1="371.4" x2="145.6" y2="374.29999999999995" stroke="#111" stroke-width="0.95"/>
<line x1="147.1" y1="371.4" x2="147.1" y2="374.29999999999995" stroke="#111" stroke-width="0.95"/>
<line x1="148.4" y1="371.4" x2="148.4" y2="374.29999999999995" stroke="#111" stroke-width="0.95"/>
<line x1="149.5" y1="371.4" x2="149.5" y2="375.79999999999995" stroke="#000" stroke-width="1.4"/>
<line x1="157.1" y1="371.4" x2="157.1" y2="374.29999999999995" stroke="#111" stroke-width="0.95"/>
<line x1="161.5" y1="371.4" x2="161.5" y2="374.29999999999995" stroke="#111" stroke-width="0.95"/>
<line x1="164.6" y1="371.4" x2="164.6" y2="374.29999999999995" stroke="#111" stroke-width="0.95"/>
<line x1="167.0" y1="371.4" x2="167.0" y2="374.29999999999995" stroke="#111" stroke-width="0.95"/>
<line x1="169.0" y1="371.4" x2="169.0" y2="374.29999999999995" stroke="#111" stroke-width="0.95"/>
<line x1="170.7" y1="371.4" x2="170.7" y2="374.29999999999995" stroke="#111" stroke-width="0.95"/>
<line x1="172.2" y1="371.4" x2="172.2" y2="374.29999999999995" stroke="#111" stroke-width="0.95"/>
<line x1="173.5" y1="371.4" x2="173.5" y2="374.29999999999995" stroke="#111" stroke-width="0.95"/>
<line x1="174.6" y1="371.4" x2="174.6" y2="375.79999999999995" stroke="#000" stroke-width="1.4"/>
<line x1="182.2" y1="371.4" x2="182.2" y2="374.29999999999995" stroke="#111" stroke-width="0.95"/>
<line x1="186.6" y1="371.4" x2="186.6" y2="374.29999999999995" stroke="#111" stroke-width="0.95"/>
<line x1="189.7" y1="371.4" x2="189.7" y2="374.29999999999995" stroke="#111" stroke-width="0.95"/>
<line x1="192.1" y1="371.4" x2="192.1" y2="374.29999999999995" stroke="#111" stroke-width="0.95"/>
<line x1="194.1" y1="371.4" x2="194.1" y2="374.29999999999995" stroke="#111" stroke-width="0.95"/>
<line x1="195.8" y1="371.4" x2="195.8" y2="374.29999999999995" stroke="#111" stroke-width="0.95"/>
<line x1="197.3" y1="371.4" x2="197.3" y2="374.29999999999995" stroke="#111" stroke-width="0.95"/>
<line x1="198.6" y1="371.4" x2="198.6" y2="374.29999999999995" stroke="#111" stroke-width="0.95"/>
<line x1="199.7" y1="371.4" x2="199.7" y2="375.79999999999995" stroke="#000" stroke-width="1.4"/>
<line x1="207.3" y1="371.4" x2="207.3" y2="374.29999999999995" stroke="#111" stroke-width="0.95"/>
<line x1="211.7" y1="371.4" x2="211.7" y2="374.29999999999995" stroke="#111" stroke-width="0.95"/>
<line x1="214.8" y1="371.4" x2="214.8" y2="374.29999999999995" stroke="#111" stroke-width="0.95"/>
<line x1="217.2" y1="371.4" x2="217.2" y2="374.29999999999995" stroke="#111" stroke-width="0.95"/>
<line x1="219.2" y1="371.4" x2="219.2" y2="374.29999999999995" stroke="#111" stroke-width="0.95"/>
<line x1="220.9" y1="371.4" x2="220.9" y2="374.29999999999995" stroke="#111" stroke-width="0.95"/>
<line x1="222.4" y1="371.4" x2="222.4" y2="374.29999999999995" stroke="#111" stroke-width="0.95"/>
<line x1="223.7" y1="371.4" x2="223.7" y2="374.29999999999995" stroke="#111" stroke-width="0.95"/>
<line x1="224.8" y1="371.4" x2="224.8" y2="375.79999999999995" stroke="#000" stroke-width="1.4"/>
<text x="52.9" y="386.4" class="tk">10<tspan dy="-3.8" font-size="6">0</tspan></text>
<text x="99.7" y="386.4" class="tk">10<tspan dy="-3.8" font-size="6">2</tspan></text>
<text x="149.9" y="386.4" class="tk">10<tspan dy="-3.8" font-size="6">4</tspan></text>
<text x="200.1" y="386.4" class="tk">10<tspan dy="-3.8" font-size="6">6</tspan></text>
<line x1="56.2" y1="207.5" x2="75.8" y2="207.5" stroke="#e0282c" stroke-width="1.6"/>
<line x1="56.2" y1="222" x2="75.8" y2="222" stroke="#2424c8" stroke-width="1.6"/>
<text x="81.6" y="210" class="b13" text-anchor="start" >Softer Outlet</text>
<text x="81.6" y="225.8" class="b13" text-anchor="start" >Stiffer Outlet</text>
<text x="228.1" y="212" class="b13" text-anchor="end" >(d)</text>
<text x="54.6" y="323.2" class="b13" text-anchor="start" >Live cells</text>
<text x="184" y="303.7" class="b13" text-anchor="middle" >Dead</text>
<text x="184" y="317.9" class="b13" text-anchor="middle" >cells</text>
<path d="M267.2,372.3 V194.8 H452.6 V372.3" fill="none" stroke="#555" stroke-width="1.3"/>
<line x1="261.7" y1="371.5" x2="267.2" y2="371.5" stroke="#111" stroke-width="1.3"/>
<text x="257.9" y="372.1" class="yl" text-anchor="end">0</text>
<line x1="264.4" y1="358.4" x2="267.2" y2="358.4" stroke="#333" stroke-width="0.9"/>
<line x1="264.4" y1="345.2" x2="267.2" y2="345.2" stroke="#333" stroke-width="0.9"/>
<line x1="261.7" y1="332.1" x2="267.2" y2="332.1" stroke="#111" stroke-width="1.3"/>
<text x="257.9" y="334.4" class="yl" text-anchor="end">30</text>
<line x1="264.4" y1="319.0" x2="267.2" y2="319.0" stroke="#333" stroke-width="0.9"/>
<line x1="264.4" y1="305.9" x2="267.2" y2="305.9" stroke="#333" stroke-width="0.9"/>
<line x1="261.7" y1="292.8" x2="267.2" y2="292.8" stroke="#111" stroke-width="1.3"/>
<text x="257.9" y="295.1" class="yl" text-anchor="end">60</text>
<line x1="264.4" y1="279.6" x2="267.2" y2="279.6" stroke="#333" stroke-width="0.9"/>
<line x1="264.4" y1="266.5" x2="267.2" y2="266.5" stroke="#333" stroke-width="0.9"/>
<line x1="261.7" y1="253.4" x2="267.2" y2="253.4" stroke="#111" stroke-width="1.3"/>
<text x="257.9" y="255.7" class="yl" text-anchor="end">90</text>
<line x1="264.4" y1="240.2" x2="267.2" y2="240.2" stroke="#333" stroke-width="0.9"/>
<line x1="264.4" y1="227.1" x2="267.2" y2="227.1" stroke="#333" stroke-width="0.9"/>
<line x1="261.7" y1="214.0" x2="267.2" y2="214.0" stroke="#111" stroke-width="1.3"/>
<text x="257.9" y="216.3" class="yl" text-anchor="end">120</text>
<line x1="264.4" y1="200.9" x2="267.2" y2="200.9" stroke="#333" stroke-width="0.9"/>
<line x1="267.2" y1="304.2" x2="385.1" y2="304.2" stroke="#111" stroke-width="1.5"/>
<line x1="385.1" y1="301.0" x2="385.1" y2="307.4" stroke="#111" stroke-width="1.3"/>
<line x1="385.1" y1="312.8" x2="452.4" y2="312.8" stroke="#111" stroke-width="1.5"/>
<line x1="385.1" y1="309.6" x2="385.1" y2="316.0" stroke="#111" stroke-width="1.3"/>
<line x1="452.4" y1="309.6" x2="452.4" y2="316.0" stroke="#111" stroke-width="1.3"/>
<path d="M267.5,372.2 C275.2,372.2 305.1,372.2 313.9,372.2 C322.7,372.2 318.2,372.6 320.2,372.2 C322.2,371.8 324.4,370.8 326.0,369.8 C327.6,368.9 328.8,367.8 330.0,366.5 C331.2,365.2 332.4,363.2 333.4,362.0 C334.4,360.8 335.3,359.7 336.2,359.0 C337.1,358.3 337.9,358.1 338.7,357.6 C339.5,357.1 340.2,357.0 341.0,356.2 C341.8,355.4 342.8,354.5 343.6,352.6 C344.4,350.7 345.1,348.6 345.8,345.0 C346.5,341.4 347.2,336.5 348.0,331.0 C348.8,325.5 349.6,319.3 350.5,312.0 C351.4,304.7 352.4,295.7 353.3,287.0 C354.2,278.3 355.0,268.8 355.8,260.0 C356.6,251.2 357.6,240.8 358.3,234.0 C359.0,227.2 359.7,222.1 360.2,219.0 C360.7,215.9 361.0,215.4 361.4,215.6 C361.8,215.8 362.1,215.9 362.6,220.0 C363.1,224.1 363.4,230.2 364.2,239.9 C364.9,249.6 366.0,265.3 367.1,278.0 C368.2,290.7 369.8,305.4 371.0,316.2 C372.2,327.0 373.5,336.0 374.5,342.6 C375.5,349.2 376.3,352.6 377.0,356.0 C377.7,359.4 377.8,361.0 378.9,363.2 C379.9,365.4 382.1,368.0 383.3,369.0 C384.5,370.0 385.0,369.1 386.3,369.0 C387.6,368.9 389.4,368.5 391.0,368.3 C392.6,368.1 394.5,367.6 396.0,367.6 C397.5,367.7 398.4,368.3 400.0,368.6 C401.6,368.9 403.2,369.5 405.7,369.6 C408.2,369.7 412.2,369.6 415.0,369.4 C417.8,369.2 420.4,368.9 422.4,368.3 C424.4,367.7 425.8,366.4 427.0,365.5 C428.2,364.6 428.6,364.0 429.4,362.8 C430.1,361.6 430.8,359.6 431.5,358.5 C432.2,357.4 432.9,356.2 433.5,356.0 C434.1,355.8 434.5,356.6 435.0,357.5 C435.5,358.4 435.7,359.7 436.3,361.5 C436.9,363.3 437.5,366.7 438.9,368.5 C440.3,370.3 442.5,371.6 444.7,372.2 C446.9,372.8 450.8,372.2 452.0,372.2 L452.0,372.2 L267.5,372.2 Z" fill="#f82630" fill-opacity="0.52" stroke="none"/>
<path d="M267.5,372.2 C275.2,372.2 305.1,372.2 313.9,372.2 C322.7,372.2 318.2,372.6 320.2,372.2 C322.2,371.8 324.4,370.8 326.0,369.8 C327.6,368.9 328.8,367.8 330.0,366.5 C331.2,365.2 332.4,363.2 333.4,362.0 C334.4,360.8 335.3,359.7 336.2,359.0 C337.1,358.3 337.9,358.1 338.7,357.6 C339.5,357.1 340.2,357.0 341.0,356.2 C341.8,355.4 342.8,354.5 343.6,352.6 C344.4,350.7 345.1,348.6 345.8,345.0 C346.5,341.4 347.2,336.5 348.0,331.0 C348.8,325.5 349.6,319.3 350.5,312.0 C351.4,304.7 352.4,295.7 353.3,287.0 C354.2,278.3 355.0,268.8 355.8,260.0 C356.6,251.2 357.6,240.8 358.3,234.0 C359.0,227.2 359.7,222.1 360.2,219.0 C360.7,215.9 361.0,215.4 361.4,215.6 C361.8,215.8 362.1,215.9 362.6,220.0 C363.1,224.1 363.4,230.2 364.2,239.9 C364.9,249.6 366.0,265.3 367.1,278.0 C368.2,290.7 369.8,305.4 371.0,316.2 C372.2,327.0 373.5,336.0 374.5,342.6 C375.5,349.2 376.3,352.6 377.0,356.0 C377.7,359.4 377.8,361.0 378.9,363.2 C379.9,365.4 382.1,368.0 383.3,369.0 C384.5,370.0 385.0,369.1 386.3,369.0 C387.6,368.9 389.4,368.5 391.0,368.3 C392.6,368.1 394.5,367.6 396.0,367.6 C397.5,367.7 398.4,368.3 400.0,368.6 C401.6,368.9 403.2,369.5 405.7,369.6 C408.2,369.7 412.2,369.6 415.0,369.4 C417.8,369.2 420.4,368.9 422.4,368.3 C424.4,367.7 425.8,366.4 427.0,365.5 C428.2,364.6 428.6,364.0 429.4,362.8 C430.1,361.6 430.8,359.6 431.5,358.5 C432.2,357.4 432.9,356.2 433.5,356.0 C434.1,355.8 434.5,356.6 435.0,357.5 C435.5,358.4 435.7,359.7 436.3,361.5 C436.9,363.3 437.5,366.7 438.9,368.5 C440.3,370.3 442.5,371.6 444.7,372.2 C446.9,372.8 450.8,372.2 452.0,372.2" fill="none" stroke="#e0282c" stroke-width="1.1" stroke-linejoin="round"/>
<path d="M267.5,372.2 C277.6,372.2 315.7,372.5 327.8,372.2 C339.9,371.9 336.8,370.9 340.0,370.4 C343.2,369.9 344.7,370.1 347.3,369.2 C349.9,368.2 353.7,365.9 355.6,364.7 C357.5,363.5 357.8,362.6 358.8,361.8 C359.8,361.0 360.9,360.1 361.8,360.0 C362.8,359.9 363.7,360.8 364.5,361.4 C365.3,362.0 365.0,362.7 366.8,363.6 C368.6,364.5 372.3,366.3 375.1,367.0 C377.9,367.7 381.2,368.5 383.5,367.8 C385.8,367.1 387.5,364.8 389.0,362.8 C390.5,360.8 391.3,357.4 392.4,355.8 C393.5,354.2 394.3,352.5 395.4,353.0 C396.5,353.5 397.5,356.4 398.8,358.6 C400.1,360.8 400.9,364.5 403.0,366.4 C405.1,368.2 408.5,369.4 411.3,369.7 C414.1,370.0 417.3,368.8 419.6,368.3 C421.9,367.9 423.6,368.9 425.2,367.0 C426.8,365.1 428.2,362.8 429.4,357.2 C430.6,351.6 431.4,338.7 432.2,333.6 C433.0,328.5 433.5,325.4 434.2,326.4 C434.9,327.4 435.9,335.2 436.6,339.5 C437.3,343.8 437.7,348.2 438.3,352.0 C438.9,355.8 439.2,359.1 440.0,362.2 C440.8,365.2 442.1,368.6 443.3,370.3 C444.5,372.0 445.6,371.9 447.0,372.2 C448.4,372.5 451.2,372.2 452.0,372.2 L452.0,372.2 L267.5,372.2 Z" fill="#4646ff" fill-opacity="0.55" stroke="none"/>
<path d="M267.5,372.2 C277.6,372.2 315.7,372.5 327.8,372.2 C339.9,371.9 336.8,370.9 340.0,370.4 C343.2,369.9 344.7,370.1 347.3,369.2 C349.9,368.2 353.7,365.9 355.6,364.7 C357.5,363.5 357.8,362.6 358.8,361.8 C359.8,361.0 360.9,360.1 361.8,360.0 C362.8,359.9 363.7,360.8 364.5,361.4 C365.3,362.0 365.0,362.7 366.8,363.6 C368.6,364.5 372.3,366.3 375.1,367.0 C377.9,367.7 381.2,368.5 383.5,367.8 C385.8,367.1 387.5,364.8 389.0,362.8 C390.5,360.8 391.3,357.4 392.4,355.8 C393.5,354.2 394.3,352.5 395.4,353.0 C396.5,353.5 397.5,356.4 398.8,358.6 C400.1,360.8 400.9,364.5 403.0,366.4 C405.1,368.2 408.5,369.4 411.3,369.7 C414.1,370.0 417.3,368.8 419.6,368.3 C421.9,367.9 423.6,368.9 425.2,367.0 C426.8,365.1 428.2,362.8 429.4,357.2 C430.6,351.6 431.4,338.7 432.2,333.6 C433.0,328.5 433.5,325.4 434.2,326.4 C434.9,327.4 435.9,335.2 436.6,339.5 C437.3,343.8 437.7,348.2 438.3,352.0 C438.9,355.8 439.2,359.1 440.0,362.2 C440.8,365.2 442.1,368.6 443.3,370.3 C444.5,372.0 445.6,371.9 447.0,372.2 C448.4,372.5 451.2,372.2 452.0,372.2" fill="none" stroke="#2424c8" stroke-width="1.3" stroke-linejoin="round"/>
<line x1="262.2" y1="372.3" x2="452.6" y2="372.3" stroke="#111" stroke-width="1.4"/>
<line x1="267.4" y1="372.3" x2="267.4" y2="376.7" stroke="#000" stroke-width="1.4"/>
<line x1="275.1" y1="372.3" x2="275.1" y2="375.2" stroke="#111" stroke-width="0.95"/>
<line x1="279.6" y1="372.3" x2="279.6" y2="375.2" stroke="#111" stroke-width="0.95"/>
<line x1="282.8" y1="372.3" x2="282.8" y2="375.2" stroke="#111" stroke-width="0.95"/>
<line x1="285.2" y1="372.3" x2="285.2" y2="375.2" stroke="#111" stroke-width="0.95"/>
<line x1="287.3" y1="372.3" x2="287.3" y2="375.2" stroke="#111" stroke-width="0.95"/>
<line x1="289.0" y1="372.3" x2="289.0" y2="375.2" stroke="#111" stroke-width="0.95"/>
<line x1="290.5" y1="372.3" x2="290.5" y2="375.2" stroke="#111" stroke-width="0.95"/>
<line x1="291.8" y1="372.3" x2="291.8" y2="375.2" stroke="#111" stroke-width="0.95"/>
<line x1="292.9" y1="372.3" x2="292.9" y2="376.7" stroke="#000" stroke-width="1.4"/>
<line x1="300.6" y1="372.3" x2="300.6" y2="375.2" stroke="#111" stroke-width="0.95"/>
<line x1="305.1" y1="372.3" x2="305.1" y2="375.2" stroke="#111" stroke-width="0.95"/>
<line x1="308.3" y1="372.3" x2="308.3" y2="375.2" stroke="#111" stroke-width="0.95"/>
<line x1="310.8" y1="372.3" x2="310.8" y2="375.2" stroke="#111" stroke-width="0.95"/>
<line x1="312.8" y1="372.3" x2="312.8" y2="375.2" stroke="#111" stroke-width="0.95"/>
<line x1="314.5" y1="372.3" x2="314.5" y2="375.2" stroke="#111" stroke-width="0.95"/>
<line x1="316.0" y1="372.3" x2="316.0" y2="375.2" stroke="#111" stroke-width="0.95"/>
<line x1="317.3" y1="372.3" x2="317.3" y2="375.2" stroke="#111" stroke-width="0.95"/>
<line x1="318.5" y1="372.3" x2="318.5" y2="376.7" stroke="#000" stroke-width="1.4"/>
<line x1="326.1" y1="372.3" x2="326.1" y2="375.2" stroke="#111" stroke-width="0.95"/>
<line x1="330.6" y1="372.3" x2="330.6" y2="375.2" stroke="#111" stroke-width="0.95"/>
<line x1="333.8" y1="372.3" x2="333.8" y2="375.2" stroke="#111" stroke-width="0.95"/>
<line x1="336.3" y1="372.3" x2="336.3" y2="375.2" stroke="#111" stroke-width="0.95"/>
<line x1="338.3" y1="372.3" x2="338.3" y2="375.2" stroke="#111" stroke-width="0.95"/>
<line x1="340.0" y1="372.3" x2="340.0" y2="375.2" stroke="#111" stroke-width="0.95"/>
<line x1="341.5" y1="372.3" x2="341.5" y2="375.2" stroke="#111" stroke-width="0.95"/>
<line x1="342.8" y1="372.3" x2="342.8" y2="375.2" stroke="#111" stroke-width="0.95"/>
<line x1="344.0" y1="372.3" x2="344.0" y2="376.7" stroke="#000" stroke-width="1.4"/>
<line x1="351.7" y1="372.3" x2="351.7" y2="375.2" stroke="#111" stroke-width="0.95"/>
<line x1="356.2" y1="372.3" x2="356.2" y2="375.2" stroke="#111" stroke-width="0.95"/>
<line x1="359.4" y1="372.3" x2="359.4" y2="375.2" stroke="#111" stroke-width="0.95"/>
<line x1="361.8" y1="372.3" x2="361.8" y2="375.2" stroke="#111" stroke-width="0.95"/>
<line x1="363.9" y1="372.3" x2="363.9" y2="375.2" stroke="#111" stroke-width="0.95"/>
<line x1="365.6" y1="372.3" x2="365.6" y2="375.2" stroke="#111" stroke-width="0.95"/>
<line x1="367.0" y1="372.3" x2="367.0" y2="375.2" stroke="#111" stroke-width="0.95"/>
<line x1="368.4" y1="372.3" x2="368.4" y2="375.2" stroke="#111" stroke-width="0.95"/>
<line x1="369.5" y1="372.3" x2="369.5" y2="376.7" stroke="#000" stroke-width="1.4"/>
<line x1="377.2" y1="372.3" x2="377.2" y2="375.2" stroke="#111" stroke-width="0.95"/>
<line x1="381.7" y1="372.3" x2="381.7" y2="375.2" stroke="#111" stroke-width="0.95"/>
<line x1="384.9" y1="372.3" x2="384.9" y2="375.2" stroke="#111" stroke-width="0.95"/>
<line x1="387.4" y1="372.3" x2="387.4" y2="375.2" stroke="#111" stroke-width="0.95"/>
<line x1="389.4" y1="372.3" x2="389.4" y2="375.2" stroke="#111" stroke-width="0.95"/>
<line x1="391.1" y1="372.3" x2="391.1" y2="375.2" stroke="#111" stroke-width="0.95"/>
<line x1="392.6" y1="372.3" x2="392.6" y2="375.2" stroke="#111" stroke-width="0.95"/>
<line x1="393.9" y1="372.3" x2="393.9" y2="375.2" stroke="#111" stroke-width="0.95"/>
<line x1="395.0" y1="372.3" x2="395.0" y2="376.7" stroke="#000" stroke-width="1.4"/>
<line x1="402.7" y1="372.3" x2="402.7" y2="375.2" stroke="#111" stroke-width="0.95"/>
<line x1="407.2" y1="372.3" x2="407.2" y2="375.2" stroke="#111" stroke-width="0.95"/>
<line x1="410.4" y1="372.3" x2="410.4" y2="375.2" stroke="#111" stroke-width="0.95"/>
<line x1="412.9" y1="372.3" x2="412.9" y2="375.2" stroke="#111" stroke-width="0.95"/>
<line x1="414.9" y1="372.3" x2="414.9" y2="375.2" stroke="#111" stroke-width="0.95"/>
<line x1="416.6" y1="372.3" x2="416.6" y2="375.2" stroke="#111" stroke-width="0.95"/>
<line x1="418.1" y1="372.3" x2="418.1" y2="375.2" stroke="#111" stroke-width="0.95"/>
<line x1="419.4" y1="372.3" x2="419.4" y2="375.2" stroke="#111" stroke-width="0.95"/>
<line x1="420.6" y1="372.3" x2="420.6" y2="376.7" stroke="#000" stroke-width="1.4"/>
<line x1="428.3" y1="372.3" x2="428.3" y2="375.2" stroke="#111" stroke-width="0.95"/>
<line x1="432.8" y1="372.3" x2="432.8" y2="375.2" stroke="#111" stroke-width="0.95"/>
<line x1="436.0" y1="372.3" x2="436.0" y2="375.2" stroke="#111" stroke-width="0.95"/>
<line x1="438.4" y1="372.3" x2="438.4" y2="375.2" stroke="#111" stroke-width="0.95"/>
<line x1="440.4" y1="372.3" x2="440.4" y2="375.2" stroke="#111" stroke-width="0.95"/>
<line x1="442.2" y1="372.3" x2="442.2" y2="375.2" stroke="#111" stroke-width="0.95"/>
<line x1="443.6" y1="372.3" x2="443.6" y2="375.2" stroke="#111" stroke-width="0.95"/>
<line x1="444.9" y1="372.3" x2="444.9" y2="375.2" stroke="#111" stroke-width="0.95"/>
<line x1="446.1" y1="372.3" x2="446.1" y2="376.7" stroke="#000" stroke-width="1.4"/>
<text x="271.2" y="387.3" class="tk">10<tspan dy="-3.8" font-size="6">0</tspan></text>
<text x="318.9" y="387.3" class="tk">10<tspan dy="-3.8" font-size="6">2</tspan></text>
<text x="369.9" y="387.3" class="tk">10<tspan dy="-3.8" font-size="6">4</tspan></text>
<text x="421.0" y="387.3" class="tk">10<tspan dy="-3.8" font-size="6">6</tspan></text>
<text x="445.2" y="212.3" class="b13" text-anchor="end" >(e)</text>
<path d="M483.6,370.2 V196.8 H672.4 V370.2" fill="none" stroke="#555" stroke-width="1.3"/>
<line x1="478.1" y1="370.1" x2="483.6" y2="370.1" stroke="#111" stroke-width="1.3"/>
<text x="474.3" y="370.7" class="yl" text-anchor="end">0</text>
<line x1="480.8" y1="358.6" x2="483.6" y2="358.6" stroke="#333" stroke-width="0.9"/>
<line x1="480.8" y1="347.1" x2="483.6" y2="347.1" stroke="#333" stroke-width="0.9"/>
<line x1="480.8" y1="335.7" x2="483.6" y2="335.7" stroke="#333" stroke-width="0.9"/>
<line x1="480.8" y1="324.2" x2="483.6" y2="324.2" stroke="#333" stroke-width="0.9"/>
<line x1="478.1" y1="312.7" x2="483.6" y2="312.7" stroke="#111" stroke-width="1.3"/>
<text x="474.3" y="315.0" class="yl" text-anchor="end">50</text>
<line x1="480.8" y1="301.2" x2="483.6" y2="301.2" stroke="#333" stroke-width="0.9"/>
<line x1="480.8" y1="289.7" x2="483.6" y2="289.7" stroke="#333" stroke-width="0.9"/>
<line x1="480.8" y1="278.3" x2="483.6" y2="278.3" stroke="#333" stroke-width="0.9"/>
<line x1="480.8" y1="266.8" x2="483.6" y2="266.8" stroke="#333" stroke-width="0.9"/>
<line x1="478.1" y1="255.3" x2="483.6" y2="255.3" stroke="#111" stroke-width="1.3"/>
<text x="474.3" y="257.6" class="yl" text-anchor="end">100</text>
<line x1="480.8" y1="243.8" x2="483.6" y2="243.8" stroke="#333" stroke-width="0.9"/>
<line x1="480.8" y1="232.3" x2="483.6" y2="232.3" stroke="#333" stroke-width="0.9"/>
<line x1="480.8" y1="220.9" x2="483.6" y2="220.9" stroke="#333" stroke-width="0.9"/>
<line x1="480.8" y1="209.4" x2="483.6" y2="209.4" stroke="#333" stroke-width="0.9"/>
<line x1="478.1" y1="197.9" x2="483.6" y2="197.9" stroke="#111" stroke-width="1.3"/>
<text x="474.3" y="202.8" class="yl" text-anchor="end">150</text>
<line x1="483.6" y1="304" x2="602.9" y2="304" stroke="#111" stroke-width="1.5"/>
<line x1="602.9" y1="300.8" x2="602.9" y2="307.2" stroke="#111" stroke-width="1.3"/>
<line x1="602.9" y1="312.9" x2="671.6" y2="312.9" stroke="#111" stroke-width="1.5"/>
<line x1="602.9" y1="309.7" x2="602.9" y2="316.09999999999997" stroke="#111" stroke-width="1.3"/>
<line x1="671.6" y1="309.7" x2="671.6" y2="316.09999999999997" stroke="#111" stroke-width="1.3"/>
<path d="M484.0,370.2 C490.0,370.2 512.1,370.2 520.0,370.2 C527.9,370.2 527.4,371.0 531.1,370.2 C534.8,369.4 539.6,366.8 542.3,365.6 C544.9,364.4 545.5,363.6 547.0,363.0 C548.5,362.4 549.9,361.8 551.2,361.9 C552.5,362.0 553.9,362.9 555.0,363.5 C556.1,364.1 556.2,364.8 557.6,365.6 C559.0,366.4 561.5,368.3 563.1,368.1 C564.7,367.9 565.8,365.9 567.0,364.5 C568.2,363.1 568.9,361.5 570.1,360.0 C571.3,358.5 572.6,356.9 574.0,355.5 C575.4,354.1 577.1,351.9 578.4,351.6 C579.6,351.4 580.3,352.8 581.5,354.0 C582.7,355.2 583.6,356.7 585.4,358.6 C587.2,360.5 589.8,364.1 592.3,365.6 C594.8,367.1 598.6,367.6 600.7,367.8 C602.8,368.0 603.6,367.4 605.0,366.8 C606.4,366.2 607.7,365.4 609.0,364.2 C610.3,363.0 611.8,360.9 613.0,359.5 C614.2,358.1 614.8,355.2 616.0,355.8 C617.2,356.4 618.1,360.9 620.2,362.8 C622.3,364.7 625.7,366.1 628.5,367.0 C631.3,367.9 634.6,368.2 636.9,368.3 C639.1,368.4 640.6,368.0 642.0,367.3 C643.4,366.6 644.0,366.4 645.2,364.2 C646.4,362.0 648.4,359.5 649.4,354.4 C650.4,349.3 650.7,339.4 651.3,333.6 C651.9,327.8 652.4,320.5 653.0,319.6 C653.6,318.7 654.2,322.9 655.0,328.0 C655.8,333.1 656.8,344.3 657.7,350.3 C658.6,356.3 659.3,360.9 660.5,364.2 C661.7,367.5 663.5,369.2 664.7,370.2 C666.0,371.2 666.8,370.2 668.0,370.2 C669.2,370.2 671.3,370.2 672.0,370.2 L672.0,370.2 L484.0,370.2 Z" fill="#4646ff" fill-opacity="0.55" stroke="none"/>
<path d="M484.0,370.2 C490.0,370.2 512.1,370.2 520.0,370.2 C527.9,370.2 527.4,371.0 531.1,370.2 C534.8,369.4 539.6,366.8 542.3,365.6 C544.9,364.4 545.5,363.6 547.0,363.0 C548.5,362.4 549.9,361.8 551.2,361.9 C552.5,362.0 553.9,362.9 555.0,363.5 C556.1,364.1 556.2,364.8 557.6,365.6 C559.0,366.4 561.5,368.3 563.1,368.1 C564.7,367.9 565.8,365.9 567.0,364.5 C568.2,363.1 568.9,361.5 570.1,360.0 C571.3,358.5 572.6,356.9 574.0,355.5 C575.4,354.1 577.1,351.9 578.4,351.6 C579.6,351.4 580.3,352.8 581.5,354.0 C582.7,355.2 583.6,356.7 585.4,358.6 C587.2,360.5 589.8,364.1 592.3,365.6 C594.8,367.1 598.6,367.6 600.7,367.8 C602.8,368.0 603.6,367.4 605.0,366.8 C606.4,366.2 607.7,365.4 609.0,364.2 C610.3,363.0 611.8,360.9 613.0,359.5 C614.2,358.1 614.8,355.2 616.0,355.8 C617.2,356.4 618.1,360.9 620.2,362.8 C622.3,364.7 625.7,366.1 628.5,367.0 C631.3,367.9 634.6,368.2 636.9,368.3 C639.1,368.4 640.6,368.0 642.0,367.3 C643.4,366.6 644.0,366.4 645.2,364.2 C646.4,362.0 648.4,359.5 649.4,354.4 C650.4,349.3 650.7,339.4 651.3,333.6 C651.9,327.8 652.4,320.5 653.0,319.6 C653.6,318.7 654.2,322.9 655.0,328.0 C655.8,333.1 656.8,344.3 657.7,350.3 C658.6,356.3 659.3,360.9 660.5,364.2 C661.7,367.5 663.5,369.2 664.7,370.2 C666.0,371.2 666.8,370.2 668.0,370.2 C669.2,370.2 671.3,370.2 672.0,370.2" fill="none" stroke="#2424c8" stroke-width="1.3" stroke-linejoin="round"/>
<path d="M484.0,370.2 C490.0,370.2 512.6,370.2 520.0,370.2 C527.4,370.2 525.8,370.4 528.3,370.2 C530.8,370.0 532.9,369.5 535.0,368.9 C537.1,368.3 539.3,367.4 541.0,366.8 C542.7,366.2 543.8,365.8 545.0,365.2 C546.2,364.6 547.1,364.4 548.5,363.3 C549.9,362.2 551.8,360.6 553.2,358.6 C554.6,356.7 555.5,354.0 556.7,351.6 C557.9,349.2 559.3,347.6 560.3,344.5 C561.3,341.4 561.9,337.1 562.6,332.8 C563.3,328.5 563.9,323.4 564.5,318.7 C565.1,314.0 565.6,309.3 566.1,304.6 C566.6,299.9 567.3,294.4 567.8,290.5 C568.3,286.6 568.6,285.0 569.2,281.1 C569.8,277.2 570.9,271.3 571.6,267.0 C572.4,262.7 573.0,259.9 573.7,255.2 C574.4,250.5 575.3,243.5 576.0,238.8 C576.7,234.1 577.3,227.6 577.9,226.8 C578.5,226.0 579.2,229.4 579.8,234.1 C580.4,238.8 580.8,247.8 581.4,255.2 C582.0,262.6 582.5,271.6 583.1,278.7 C583.7,285.8 584.4,291.6 585.0,297.5 C585.6,303.4 586.2,308.9 586.8,314.0 C587.4,319.1 587.8,323.4 588.5,328.1 C589.2,332.8 590.0,337.9 590.8,342.2 C591.6,346.5 592.2,350.4 593.2,353.9 C594.2,357.4 595.3,360.9 596.7,363.3 C598.1,365.7 599.9,366.9 601.4,368.0 C602.9,369.1 604.3,369.8 606.0,370.2 C607.7,370.6 606.1,370.2 611.8,370.2 C617.5,370.2 634.0,370.2 640.0,370.2 C646.0,370.2 645.5,370.2 648.0,370.2 C650.5,370.2 651.0,370.2 655.0,370.2 C659.0,370.2 669.2,370.2 672.0,370.2 L672.0,370.2 L484.0,370.2 Z" fill="#f82630" fill-opacity="0.52" stroke="none"/>
<path d="M484.0,370.2 C490.0,370.2 512.6,370.2 520.0,370.2 C527.4,370.2 525.8,370.4 528.3,370.2 C530.8,370.0 532.9,369.5 535.0,368.9 C537.1,368.3 539.3,367.4 541.0,366.8 C542.7,366.2 543.8,365.8 545.0,365.2 C546.2,364.6 547.1,364.4 548.5,363.3 C549.9,362.2 551.8,360.6 553.2,358.6 C554.6,356.7 555.5,354.0 556.7,351.6 C557.9,349.2 559.3,347.6 560.3,344.5 C561.3,341.4 561.9,337.1 562.6,332.8 C563.3,328.5 563.9,323.4 564.5,318.7 C565.1,314.0 565.6,309.3 566.1,304.6 C566.6,299.9 567.3,294.4 567.8,290.5 C568.3,286.6 568.6,285.0 569.2,281.1 C569.8,277.2 570.9,271.3 571.6,267.0 C572.4,262.7 573.0,259.9 573.7,255.2 C574.4,250.5 575.3,243.5 576.0,238.8 C576.7,234.1 577.3,227.6 577.9,226.8 C578.5,226.0 579.2,229.4 579.8,234.1 C580.4,238.8 580.8,247.8 581.4,255.2 C582.0,262.6 582.5,271.6 583.1,278.7 C583.7,285.8 584.4,291.6 585.0,297.5 C585.6,303.4 586.2,308.9 586.8,314.0 C587.4,319.1 587.8,323.4 588.5,328.1 C589.2,332.8 590.0,337.9 590.8,342.2 C591.6,346.5 592.2,350.4 593.2,353.9 C594.2,357.4 595.3,360.9 596.7,363.3 C598.1,365.7 599.9,366.9 601.4,368.0 C602.9,369.1 604.3,369.8 606.0,370.2 C607.7,370.6 606.1,370.2 611.8,370.2 C617.5,370.2 634.0,370.2 640.0,370.2 C646.0,370.2 645.5,370.2 648.0,370.2 C650.5,370.2 651.0,370.2 655.0,370.2 C659.0,370.2 669.2,370.2 672.0,370.2" fill="none" stroke="#e0282c" stroke-width="1.1" stroke-linejoin="round"/>
<line x1="478.6" y1="370.2" x2="672.4" y2="370.2" stroke="#111" stroke-width="1.4"/>
<line x1="483.9" y1="370.2" x2="483.9" y2="374.59999999999997" stroke="#000" stroke-width="1.4"/>
<line x1="491.6" y1="370.2" x2="491.6" y2="373.09999999999997" stroke="#111" stroke-width="0.95"/>
<line x1="496.2" y1="370.2" x2="496.2" y2="373.09999999999997" stroke="#111" stroke-width="0.95"/>
<line x1="499.4" y1="370.2" x2="499.4" y2="373.09999999999997" stroke="#111" stroke-width="0.95"/>
<line x1="501.9" y1="370.2" x2="501.9" y2="373.09999999999997" stroke="#111" stroke-width="0.95"/>
<line x1="503.9" y1="370.2" x2="503.9" y2="373.09999999999997" stroke="#111" stroke-width="0.95"/>
<line x1="505.6" y1="370.2" x2="505.6" y2="373.09999999999997" stroke="#111" stroke-width="0.95"/>
<line x1="507.1" y1="370.2" x2="507.1" y2="373.09999999999997" stroke="#111" stroke-width="0.95"/>
<line x1="508.4" y1="370.2" x2="508.4" y2="373.09999999999997" stroke="#111" stroke-width="0.95"/>
<line x1="509.6" y1="370.2" x2="509.6" y2="374.59999999999997" stroke="#000" stroke-width="1.4"/>
<line x1="517.3" y1="370.2" x2="517.3" y2="373.09999999999997" stroke="#111" stroke-width="0.95"/>
<line x1="521.9" y1="370.2" x2="521.9" y2="373.09999999999997" stroke="#111" stroke-width="0.95"/>
<line x1="525.1" y1="370.2" x2="525.1" y2="373.09999999999997" stroke="#111" stroke-width="0.95"/>
<line x1="527.6" y1="370.2" x2="527.6" y2="373.09999999999997" stroke="#111" stroke-width="0.95"/>
<line x1="529.6" y1="370.2" x2="529.6" y2="373.09999999999997" stroke="#111" stroke-width="0.95"/>
<line x1="531.3" y1="370.2" x2="531.3" y2="373.09999999999997" stroke="#111" stroke-width="0.95"/>
<line x1="532.8" y1="370.2" x2="532.8" y2="373.09999999999997" stroke="#111" stroke-width="0.95"/>
<line x1="534.1" y1="370.2" x2="534.1" y2="373.09999999999997" stroke="#111" stroke-width="0.95"/>
<line x1="535.3" y1="370.2" x2="535.3" y2="374.59999999999997" stroke="#000" stroke-width="1.4"/>
<line x1="543.0" y1="370.2" x2="543.0" y2="373.09999999999997" stroke="#111" stroke-width="0.95"/>
<line x1="547.6" y1="370.2" x2="547.6" y2="373.09999999999997" stroke="#111" stroke-width="0.95"/>
<line x1="550.8" y1="370.2" x2="550.8" y2="373.09999999999997" stroke="#111" stroke-width="0.95"/>
<line x1="553.3" y1="370.2" x2="553.3" y2="373.09999999999997" stroke="#111" stroke-width="0.95"/>
<line x1="555.3" y1="370.2" x2="555.3" y2="373.09999999999997" stroke="#111" stroke-width="0.95"/>
<line x1="557.0" y1="370.2" x2="557.0" y2="373.09999999999997" stroke="#111" stroke-width="0.95"/>
<line x1="558.5" y1="370.2" x2="558.5" y2="373.09999999999997" stroke="#111" stroke-width="0.95"/>
<line x1="559.8" y1="370.2" x2="559.8" y2="373.09999999999997" stroke="#111" stroke-width="0.95"/>
<line x1="561.0" y1="370.2" x2="561.0" y2="374.59999999999997" stroke="#000" stroke-width="1.4"/>
<line x1="568.7" y1="370.2" x2="568.7" y2="373.09999999999997" stroke="#111" stroke-width="0.95"/>
<line x1="573.3" y1="370.2" x2="573.3" y2="373.09999999999997" stroke="#111" stroke-width="0.95"/>
<line x1="576.5" y1="370.2" x2="576.5" y2="373.09999999999997" stroke="#111" stroke-width="0.95"/>
<line x1="579.0" y1="370.2" x2="579.0" y2="373.09999999999997" stroke="#111" stroke-width="0.95"/>
<line x1="581.0" y1="370.2" x2="581.0" y2="373.09999999999997" stroke="#111" stroke-width="0.95"/>
<line x1="582.7" y1="370.2" x2="582.7" y2="373.09999999999997" stroke="#111" stroke-width="0.95"/>
<line x1="584.2" y1="370.2" x2="584.2" y2="373.09999999999997" stroke="#111" stroke-width="0.95"/>
<line x1="585.5" y1="370.2" x2="585.5" y2="373.09999999999997" stroke="#111" stroke-width="0.95"/>
<line x1="586.7" y1="370.2" x2="586.7" y2="374.59999999999997" stroke="#000" stroke-width="1.4"/>
<line x1="594.4" y1="370.2" x2="594.4" y2="373.09999999999997" stroke="#111" stroke-width="0.95"/>
<line x1="599.0" y1="370.2" x2="599.0" y2="373.09999999999997" stroke="#111" stroke-width="0.95"/>
<line x1="602.2" y1="370.2" x2="602.2" y2="373.09999999999997" stroke="#111" stroke-width="0.95"/>
<line x1="604.7" y1="370.2" x2="604.7" y2="373.09999999999997" stroke="#111" stroke-width="0.95"/>
<line x1="606.7" y1="370.2" x2="606.7" y2="373.09999999999997" stroke="#111" stroke-width="0.95"/>
<line x1="608.4" y1="370.2" x2="608.4" y2="373.09999999999997" stroke="#111" stroke-width="0.95"/>
<line x1="609.9" y1="370.2" x2="609.9" y2="373.09999999999997" stroke="#111" stroke-width="0.95"/>
<line x1="611.2" y1="370.2" x2="611.2" y2="373.09999999999997" stroke="#111" stroke-width="0.95"/>
<line x1="612.4" y1="370.2" x2="612.4" y2="374.59999999999997" stroke="#000" stroke-width="1.4"/>
<line x1="620.1" y1="370.2" x2="620.1" y2="373.09999999999997" stroke="#111" stroke-width="0.95"/>
<line x1="624.7" y1="370.2" x2="624.7" y2="373.09999999999997" stroke="#111" stroke-width="0.95"/>
<line x1="627.9" y1="370.2" x2="627.9" y2="373.09999999999997" stroke="#111" stroke-width="0.95"/>
<line x1="630.4" y1="370.2" x2="630.4" y2="373.09999999999997" stroke="#111" stroke-width="0.95"/>
<line x1="632.4" y1="370.2" x2="632.4" y2="373.09999999999997" stroke="#111" stroke-width="0.95"/>
<line x1="634.1" y1="370.2" x2="634.1" y2="373.09999999999997" stroke="#111" stroke-width="0.95"/>
<line x1="635.6" y1="370.2" x2="635.6" y2="373.09999999999997" stroke="#111" stroke-width="0.95"/>
<line x1="636.9" y1="370.2" x2="636.9" y2="373.09999999999997" stroke="#111" stroke-width="0.95"/>
<line x1="638.1" y1="370.2" x2="638.1" y2="374.59999999999997" stroke="#000" stroke-width="1.4"/>
<line x1="645.8" y1="370.2" x2="645.8" y2="373.09999999999997" stroke="#111" stroke-width="0.95"/>
<line x1="650.4" y1="370.2" x2="650.4" y2="373.09999999999997" stroke="#111" stroke-width="0.95"/>
<line x1="653.6" y1="370.2" x2="653.6" y2="373.09999999999997" stroke="#111" stroke-width="0.95"/>
<line x1="656.1" y1="370.2" x2="656.1" y2="373.09999999999997" stroke="#111" stroke-width="0.95"/>
<line x1="658.1" y1="370.2" x2="658.1" y2="373.09999999999997" stroke="#111" stroke-width="0.95"/>
<line x1="659.8" y1="370.2" x2="659.8" y2="373.09999999999997" stroke="#111" stroke-width="0.95"/>
<line x1="661.3" y1="370.2" x2="661.3" y2="373.09999999999997" stroke="#111" stroke-width="0.95"/>
<line x1="662.6" y1="370.2" x2="662.6" y2="373.09999999999997" stroke="#111" stroke-width="0.95"/>
<line x1="663.8" y1="370.2" x2="663.8" y2="374.59999999999997" stroke="#000" stroke-width="1.4"/>
<text x="487.7" y="385.2" class="tk">10<tspan dy="-3.8" font-size="6">0</tspan></text>
<text x="535.7" y="385.2" class="tk">10<tspan dy="-3.8" font-size="6">2</tspan></text>
<text x="587.1" y="385.2" class="tk">10<tspan dy="-3.8" font-size="6">4</tspan></text>
<text x="638.5" y="385.2" class="tk">10<tspan dy="-3.8" font-size="6">6</tspan></text>
<text x="662.4" y="212" class="b13" text-anchor="end" >(f)</text>
<path d="M19.8,255 V391.6 H258" fill="none" stroke="#000" stroke-width="2.6"/>
<path d="M15.2,261.6 L19.8,254.2 L24.3,261.6" fill="none" stroke="#000" stroke-width="2.6" stroke-linecap="round" stroke-linejoin="round"/>
<path d="M251.4,387.3 L259.2,391.6 L251.4,396" fill="none" stroke="#000" stroke-width="2.6" stroke-linecap="round" stroke-linejoin="round"/>
<text x="0" y="0" class="b145" transform="translate(14.2,349.8) rotate(-90)">Count</text>
<text x="23.9" y="409.9" class="b145" textLength="210.6" lengthAdjust="spacingAndGlyphs">Fluorescence Intensity (A. U.)</text>
<rect x="166.2" y="426" width="381" height="214.6" fill="none" stroke="#111" stroke-width="1.4"/>
<text x="172.8" y="442.6" class="b13" style="font-size:13.9px">(g)</text>
<line x1="208" y1="449.2" x2="208" y2="606.6" stroke="#111" stroke-width="1.6"/>
<line x1="208" y1="606.6" x2="536.5" y2="606.6" stroke="#111" stroke-width="1.6"/>
<text x="200.4" y="609.5" class="r10" text-anchor="end">0</text>
<text x="208.0" y="621.8" class="r10" text-anchor="middle">0</text>
<text x="200.4" y="576.7" class="r10" text-anchor="end">25</text>
<text x="288.0" y="621.8" class="r10" text-anchor="middle">25</text>
<text x="200.4" y="543.9" class="r10" text-anchor="end">50</text>
<text x="368.0" y="621.8" class="r10" text-anchor="middle">50</text>
<text x="200.4" y="511.2" class="r10" text-anchor="end">75</text>
<text x="448.0" y="621.8" class="r10" text-anchor="middle">75</text>
<text x="200.4" y="478.4" class="r10" text-anchor="end">100</text>
<text x="528.0" y="621.8" class="r10" text-anchor="middle">100</text>
<text x="0" y="0" class="b11" transform="translate(180.3,595.3) rotate(-90)" textLength="133.4" lengthAdjust="spacingAndGlyphs">Total cells in outlets (%)</text>
<text x="372.4" y="635.3" class="b11" text-anchor="middle">Live cells in inlet (%)</text>
<line x1="208" y1="552.2" x2="528" y2="481.7" stroke="#111" stroke-width="1.3"/>
<line x1="208" y1="601.6" x2="528" y2="522.6" stroke="#111" stroke-width="1.3"/>
<line x1="422.1" y1="490.5" x2="422.1" y2="508.4" stroke="#555" stroke-width="0.9"/>
<line x1="526.8" y1="461.2" x2="526.8" y2="506.8" stroke="#555" stroke-width="0.9"/>
<line x1="422.1" y1="541.7" x2="422.1" y2="556.4" stroke="#555" stroke-width="0.9"/>
<line x1="526.8" y1="511" x2="526.8" y2="523" stroke="#555" stroke-width="0.9"/>
<line x1="362.8" y1="562" x2="362.8" y2="570.5" stroke="#555" stroke-width="0.9"/>
<line x1="362.8" y1="519" x2="362.8" y2="525" stroke="#555" stroke-width="0.9"/>
<circle cx="208" cy="553.3" r="3.4" fill="#1f6fbf"/>
<circle cx="362.8" cy="522.3" r="3.4" fill="#1f6fbf"/>
<circle cx="422.1" cy="499.3" r="3.4" fill="#1f6fbf"/>
<circle cx="461.6" cy="496" r="3.4" fill="#1f6fbf"/>
<circle cx="526.8" cy="484" r="3.4" fill="#1f6fbf"/>
<circle cx="208" cy="597.6" r="3.4" fill="#e51b1b"/>
<circle cx="362.8" cy="565.5" r="3.4" fill="#e51b1b"/>
<circle cx="422.1" cy="549.2" r="3.4" fill="#e51b1b"/>
<circle cx="461.6" cy="541" r="3.4" fill="#e51b1b"/>
<circle cx="526.8" cy="517.6" r="3.4" fill="#e51b1b"/>
<circle cx="236.3" cy="462.2" r="2.9" fill="#e51b1b"/>
<circle cx="324.7" cy="462" r="2.9" fill="#1f6fbf"/>
<text x="242.7" y="466.2" class="r117">Softer Outlet</text>
<text x="330.7" y="466.2" class="r117">Softer &amp; Middle Outlet</text>
<text x="332.3" y="497.6" class="r117">R² = 0.9813</text>
<text x="338.5" y="541.7" class="r117">R² = 0.9861</text>
</svg></body></html>
